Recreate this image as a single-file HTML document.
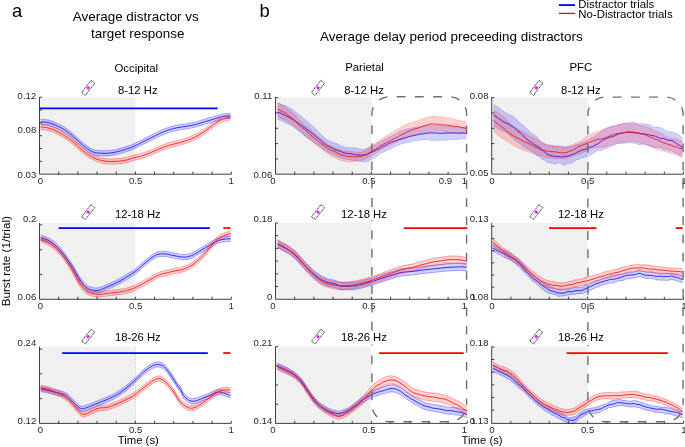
<!DOCTYPE html>
<html><head><meta charset="utf-8"><style>
html,body{margin:0;padding:0;background:#fff;width:685px;height:447px;overflow:hidden}
svg{display:block;will-change:transform}
text{font-family:"Liberation Sans", sans-serif}
</style></head><body>
<svg width="685" height="447" viewBox="0 0 685 447" font-family='"Liberation Sans", sans-serif'>
<rect x="39.5" y="97.2" width="95.9" height="77" fill="#f0f0f0"/>
<rect x="39.5" y="222.9" width="95.9" height="76.4" fill="#f0f0f0"/>
<rect x="39.5" y="346.6" width="95.9" height="76.8" fill="#f0f0f0"/>
<rect x="275.5" y="97.2" width="95.9" height="77" fill="#f0f0f0"/>
<rect x="275.5" y="222.9" width="95.9" height="76.4" fill="#f0f0f0"/>
<rect x="275.5" y="346.6" width="95.9" height="76.8" fill="#f0f0f0"/>
<rect x="491.7" y="97.2" width="95.9" height="77" fill="#f0f0f0"/>
<rect x="491.7" y="222.9" width="95.9" height="76.4" fill="#f0f0f0"/>
<rect x="491.7" y="346.6" width="95.9" height="76.8" fill="#f0f0f0"/>
<path d="M135.5 346.6 V423.4" stroke="#999" stroke-width="0.5" stroke-dasharray="1 1.5"/>
<path d="M40.7 119.2 C42.03 119.35 46.17 119.5 48.7 120.1 C51.23 120.7 53.22 121.6 55.9 122.8 C58.58 124 61.82 125.37 64.8 127.3 C67.78 129.23 70.82 131.87 73.8 134.4 C76.78 136.93 79.72 140.1 82.7 142.5 C85.68 144.9 89.02 147.47 91.7 148.8 C94.38 150.13 95.82 150.22 98.8 150.5 C101.78 150.78 106.32 150.78 109.6 150.5 C112.88 150.22 115.53 149.53 118.5 148.8 C121.47 148.07 124.98 146.87 127.4 146.1 C129.82 145.33 130.58 145.25 133 144.2 C135.42 143.15 138.92 141.28 141.9 139.8 C144.88 138.32 147.92 136.78 150.9 135.3 C153.88 133.82 156.82 132.23 159.8 130.9 C162.78 129.57 165.82 128.28 168.8 127.3 C171.78 126.32 174.72 125.6 177.7 125 C180.68 124.4 183.72 124.22 186.7 123.7 C189.68 123.18 192.62 122.65 195.6 121.9 C198.58 121.15 201.62 120.08 204.6 119.2 C207.58 118.32 210.53 117.48 213.5 116.6 C216.47 115.72 219.57 114.42 222.4 113.9 C225.23 113.38 229.15 113.57 230.5 113.5 L230.5 118.7 C229.15 118.77 225.23 118.58 222.4 119.1 C219.57 119.62 216.47 120.92 213.5 121.8 C210.53 122.68 207.58 123.52 204.6 124.4 C201.62 125.28 198.58 126.35 195.6 127.1 C192.62 127.85 189.68 128.38 186.7 128.9 C183.72 129.42 180.68 129.6 177.7 130.2 C174.72 130.8 171.78 131.52 168.8 132.5 C165.82 133.48 162.78 134.77 159.8 136.1 C156.82 137.43 153.88 139.02 150.9 140.5 C147.92 141.98 144.88 143.52 141.9 145 C138.92 146.48 135.42 148.35 133 149.4 C130.58 150.45 129.82 150.53 127.4 151.3 C124.98 152.07 121.47 153.27 118.5 154 C115.53 154.73 112.88 155.42 109.6 155.7 C106.32 155.98 101.78 155.98 98.8 155.7 C95.82 155.42 94.38 155.33 91.7 154 C89.02 152.67 85.68 150.1 82.7 147.7 C79.72 145.3 76.78 142.13 73.8 139.6 C70.82 137.07 67.78 134.43 64.8 132.5 C61.82 130.57 58.58 129.2 55.9 128 C53.22 126.8 51.23 125.9 48.7 125.3 C46.17 124.7 42.03 124.55 40.7 124.4 Z" fill="#0000ff" fill-opacity="0.18" stroke="none"/>
<path d="M40.7 119.2 C42.03 119.35 46.17 119.5 48.7 120.1 C51.23 120.7 53.22 121.6 55.9 122.8 C58.58 124 61.82 125.37 64.8 127.3 C67.78 129.23 70.82 131.87 73.8 134.4 C76.78 136.93 79.72 140.1 82.7 142.5 C85.68 144.9 89.02 147.47 91.7 148.8 C94.38 150.13 95.82 150.22 98.8 150.5 C101.78 150.78 106.32 150.78 109.6 150.5 C112.88 150.22 115.53 149.53 118.5 148.8 C121.47 148.07 124.98 146.87 127.4 146.1 C129.82 145.33 130.58 145.25 133 144.2 C135.42 143.15 138.92 141.28 141.9 139.8 C144.88 138.32 147.92 136.78 150.9 135.3 C153.88 133.82 156.82 132.23 159.8 130.9 C162.78 129.57 165.82 128.28 168.8 127.3 C171.78 126.32 174.72 125.6 177.7 125 C180.68 124.4 183.72 124.22 186.7 123.7 C189.68 123.18 192.62 122.65 195.6 121.9 C198.58 121.15 201.62 120.08 204.6 119.2 C207.58 118.32 210.53 117.48 213.5 116.6 C216.47 115.72 219.57 114.42 222.4 113.9 C225.23 113.38 229.15 113.57 230.5 113.5" fill="none" stroke="#0000ff" stroke-opacity="0.45" stroke-width="0.7"/>
<path d="M40.7 124.4 C42.03 124.55 46.17 124.7 48.7 125.3 C51.23 125.9 53.22 126.8 55.9 128 C58.58 129.2 61.82 130.57 64.8 132.5 C67.78 134.43 70.82 137.07 73.8 139.6 C76.78 142.13 79.72 145.3 82.7 147.7 C85.68 150.1 89.02 152.67 91.7 154 C94.38 155.33 95.82 155.42 98.8 155.7 C101.78 155.98 106.32 155.98 109.6 155.7 C112.88 155.42 115.53 154.73 118.5 154 C121.47 153.27 124.98 152.07 127.4 151.3 C129.82 150.53 130.58 150.45 133 149.4 C135.42 148.35 138.92 146.48 141.9 145 C144.88 143.52 147.92 141.98 150.9 140.5 C153.88 139.02 156.82 137.43 159.8 136.1 C162.78 134.77 165.82 133.48 168.8 132.5 C171.78 131.52 174.72 130.8 177.7 130.2 C180.68 129.6 183.72 129.42 186.7 128.9 C189.68 128.38 192.62 127.85 195.6 127.1 C198.58 126.35 201.62 125.28 204.6 124.4 C207.58 123.52 210.53 122.68 213.5 121.8 C216.47 120.92 219.57 119.62 222.4 119.1 C225.23 118.58 229.15 118.77 230.5 118.7" fill="none" stroke="#0000ff" stroke-opacity="0.45" stroke-width="0.7"/>
<path d="M40.7 121.8 C42.03 121.95 46.17 122.1 48.7 122.7 C51.23 123.3 53.22 124.2 55.9 125.4 C58.58 126.6 61.82 127.97 64.8 129.9 C67.78 131.83 70.82 134.47 73.8 137 C76.78 139.53 79.72 142.7 82.7 145.1 C85.68 147.5 89.02 150.07 91.7 151.4 C94.38 152.73 95.82 152.82 98.8 153.1 C101.78 153.38 106.32 153.38 109.6 153.1 C112.88 152.82 115.53 152.13 118.5 151.4 C121.47 150.67 124.98 149.47 127.4 148.7 C129.82 147.93 130.58 147.85 133 146.8 C135.42 145.75 138.92 143.88 141.9 142.4 C144.88 140.92 147.92 139.38 150.9 137.9 C153.88 136.42 156.82 134.83 159.8 133.5 C162.78 132.17 165.82 130.88 168.8 129.9 C171.78 128.92 174.72 128.2 177.7 127.6 C180.68 127 183.72 126.82 186.7 126.3 C189.68 125.78 192.62 125.25 195.6 124.5 C198.58 123.75 201.62 122.68 204.6 121.8 C207.58 120.92 210.53 120.08 213.5 119.2 C216.47 118.32 219.57 117.02 222.4 116.5 C225.23 115.98 229.15 116.17 230.5 116.1" fill="none" stroke="#0000ff" stroke-width="0.8" stroke-linejoin="round"/>
<path d="M40.7 124.2 C42.03 124.42 46.17 124.83 48.7 125.5 C51.23 126.17 53.22 126.92 55.9 128.2 C58.58 129.48 61.82 131.27 64.8 133.2 C67.78 135.13 70.82 137.35 73.8 139.8 C76.78 142.25 79.72 145.52 82.7 147.9 C85.68 150.28 88.72 152.47 91.7 154.1 C94.68 155.73 97.62 156.9 100.6 157.7 C103.58 158.5 106.62 158.75 109.6 158.9 C112.58 159.05 115.53 158.88 118.5 158.6 C121.47 158.32 124.98 157.73 127.4 157.2 C129.82 156.67 130.58 156.07 133 155.4 C135.42 154.73 138.92 154.1 141.9 153.2 C144.88 152.3 147.92 151.18 150.9 150 C153.88 148.82 156.82 147.3 159.8 146.1 C162.78 144.9 165.82 143.73 168.8 142.8 C171.78 141.87 174.72 141.32 177.7 140.5 C180.68 139.68 183.72 138.95 186.7 137.9 C189.68 136.85 192.62 135.73 195.6 134.2 C198.58 132.67 201.62 130.75 204.6 128.7 C207.58 126.65 210.53 123.92 213.5 121.9 C216.47 119.88 219.57 117.78 222.4 116.6 C225.23 115.42 229.15 115.1 230.5 114.8 L230.5 120 C229.15 120.3 225.23 120.62 222.4 121.8 C219.57 122.98 216.47 125.08 213.5 127.1 C210.53 129.12 207.58 131.85 204.6 133.9 C201.62 135.95 198.58 137.87 195.6 139.4 C192.62 140.93 189.68 142.05 186.7 143.1 C183.72 144.15 180.68 144.88 177.7 145.7 C174.72 146.52 171.78 147.07 168.8 148 C165.82 148.93 162.78 150.1 159.8 151.3 C156.82 152.5 153.88 154.02 150.9 155.2 C147.92 156.38 144.88 157.5 141.9 158.4 C138.92 159.3 135.42 159.93 133 160.6 C130.58 161.27 129.82 161.87 127.4 162.4 C124.98 162.93 121.47 163.52 118.5 163.8 C115.53 164.08 112.58 164.25 109.6 164.1 C106.62 163.95 103.58 163.7 100.6 162.9 C97.62 162.1 94.68 160.93 91.7 159.3 C88.72 157.67 85.68 155.48 82.7 153.1 C79.72 150.72 76.78 147.45 73.8 145 C70.82 142.55 67.78 140.33 64.8 138.4 C61.82 136.47 58.58 134.68 55.9 133.4 C53.22 132.12 51.23 131.37 48.7 130.7 C46.17 130.03 42.03 129.62 40.7 129.4 Z" fill="#ff0000" fill-opacity="0.18" stroke="none"/>
<path d="M40.7 124.2 C42.03 124.42 46.17 124.83 48.7 125.5 C51.23 126.17 53.22 126.92 55.9 128.2 C58.58 129.48 61.82 131.27 64.8 133.2 C67.78 135.13 70.82 137.35 73.8 139.8 C76.78 142.25 79.72 145.52 82.7 147.9 C85.68 150.28 88.72 152.47 91.7 154.1 C94.68 155.73 97.62 156.9 100.6 157.7 C103.58 158.5 106.62 158.75 109.6 158.9 C112.58 159.05 115.53 158.88 118.5 158.6 C121.47 158.32 124.98 157.73 127.4 157.2 C129.82 156.67 130.58 156.07 133 155.4 C135.42 154.73 138.92 154.1 141.9 153.2 C144.88 152.3 147.92 151.18 150.9 150 C153.88 148.82 156.82 147.3 159.8 146.1 C162.78 144.9 165.82 143.73 168.8 142.8 C171.78 141.87 174.72 141.32 177.7 140.5 C180.68 139.68 183.72 138.95 186.7 137.9 C189.68 136.85 192.62 135.73 195.6 134.2 C198.58 132.67 201.62 130.75 204.6 128.7 C207.58 126.65 210.53 123.92 213.5 121.9 C216.47 119.88 219.57 117.78 222.4 116.6 C225.23 115.42 229.15 115.1 230.5 114.8" fill="none" stroke="#ff0000" stroke-opacity="0.45" stroke-width="0.7"/>
<path d="M40.7 129.4 C42.03 129.62 46.17 130.03 48.7 130.7 C51.23 131.37 53.22 132.12 55.9 133.4 C58.58 134.68 61.82 136.47 64.8 138.4 C67.78 140.33 70.82 142.55 73.8 145 C76.78 147.45 79.72 150.72 82.7 153.1 C85.68 155.48 88.72 157.67 91.7 159.3 C94.68 160.93 97.62 162.1 100.6 162.9 C103.58 163.7 106.62 163.95 109.6 164.1 C112.58 164.25 115.53 164.08 118.5 163.8 C121.47 163.52 124.98 162.93 127.4 162.4 C129.82 161.87 130.58 161.27 133 160.6 C135.42 159.93 138.92 159.3 141.9 158.4 C144.88 157.5 147.92 156.38 150.9 155.2 C153.88 154.02 156.82 152.5 159.8 151.3 C162.78 150.1 165.82 148.93 168.8 148 C171.78 147.07 174.72 146.52 177.7 145.7 C180.68 144.88 183.72 144.15 186.7 143.1 C189.68 142.05 192.62 140.93 195.6 139.4 C198.58 137.87 201.62 135.95 204.6 133.9 C207.58 131.85 210.53 129.12 213.5 127.1 C216.47 125.08 219.57 122.98 222.4 121.8 C225.23 120.62 229.15 120.3 230.5 120" fill="none" stroke="#ff0000" stroke-opacity="0.45" stroke-width="0.7"/>
<path d="M40.7 126.8 C42.03 127.02 46.17 127.43 48.7 128.1 C51.23 128.77 53.22 129.52 55.9 130.8 C58.58 132.08 61.82 133.87 64.8 135.8 C67.78 137.73 70.82 139.95 73.8 142.4 C76.78 144.85 79.72 148.12 82.7 150.5 C85.68 152.88 88.72 155.07 91.7 156.7 C94.68 158.33 97.62 159.5 100.6 160.3 C103.58 161.1 106.62 161.35 109.6 161.5 C112.58 161.65 115.53 161.48 118.5 161.2 C121.47 160.92 124.98 160.33 127.4 159.8 C129.82 159.27 130.58 158.67 133 158 C135.42 157.33 138.92 156.7 141.9 155.8 C144.88 154.9 147.92 153.78 150.9 152.6 C153.88 151.42 156.82 149.9 159.8 148.7 C162.78 147.5 165.82 146.33 168.8 145.4 C171.78 144.47 174.72 143.92 177.7 143.1 C180.68 142.28 183.72 141.55 186.7 140.5 C189.68 139.45 192.62 138.33 195.6 136.8 C198.58 135.27 201.62 133.35 204.6 131.3 C207.58 129.25 210.53 126.52 213.5 124.5 C216.47 122.48 219.57 120.38 222.4 119.2 C225.23 118.02 229.15 117.7 230.5 117.4" fill="none" stroke="#ff0000" stroke-width="0.8" stroke-linejoin="round"/>
<path d="M40.7 235.3 C41.88 235.68 45.3 236.3 47.8 237.6 C50.3 238.9 53.08 240.75 55.7 243.1 C58.32 245.45 60.9 248.45 63.5 251.7 C66.1 254.95 69.22 259.47 71.3 262.6 C73.38 265.73 74.43 267.88 76 270.5 C77.57 273.12 78.87 275.83 80.7 278.3 C82.53 280.77 84.92 283.73 87 285.3 C89.08 286.87 91.12 287.33 93.2 287.7 C95.28 288.07 97.07 288.1 99.5 287.5 C101.93 286.9 105.1 285.25 107.8 284.1 C110.5 282.95 113.08 281.9 115.7 280.6 C118.32 279.3 120.9 277.8 123.5 276.3 C126.1 274.8 129.22 272.92 131.3 271.6 C133.38 270.28 134.43 269.63 136 268.4 C137.57 267.17 138.87 265.82 140.7 264.2 C142.53 262.58 144.92 260.4 147 258.7 C149.08 257 151.38 255.17 153.2 254 C155.02 252.83 155.93 252.17 157.9 251.7 C159.87 251.23 162.7 251.05 165 251.2 C167.3 251.35 169.47 252.15 171.7 252.6 C173.93 253.05 176.17 253.57 178.4 253.9 C180.63 254.23 182.87 254.75 185.1 254.6 C187.33 254.45 189.57 253.9 191.8 253 C194.03 252.1 196.27 250.5 198.5 249.2 C200.73 247.9 202.97 246.53 205.2 245.2 C207.43 243.87 209.67 242.43 211.9 241.2 C214.13 239.97 216.37 238.58 218.6 237.8 C220.83 237.02 223.28 236.77 225.3 236.5 C227.32 236.23 229.8 236.25 230.7 236.2 L230.7 241.4 C229.8 241.45 227.32 241.43 225.3 241.7 C223.28 241.97 220.83 242.22 218.6 243 C216.37 243.78 214.13 245.17 211.9 246.4 C209.67 247.63 207.43 249.07 205.2 250.4 C202.97 251.73 200.73 253.1 198.5 254.4 C196.27 255.7 194.03 257.3 191.8 258.2 C189.57 259.1 187.33 259.65 185.1 259.8 C182.87 259.95 180.63 259.43 178.4 259.1 C176.17 258.77 173.93 258.25 171.7 257.8 C169.47 257.35 167.3 256.55 165 256.4 C162.7 256.25 159.87 256.43 157.9 256.9 C155.93 257.37 155.02 258.03 153.2 259.2 C151.38 260.37 149.08 262.2 147 263.9 C144.92 265.6 142.53 267.78 140.7 269.4 C138.87 271.02 137.57 272.37 136 273.6 C134.43 274.83 133.38 275.48 131.3 276.8 C129.22 278.12 126.1 280 123.5 281.5 C120.9 283 118.32 284.5 115.7 285.8 C113.08 287.1 110.5 288.15 107.8 289.3 C105.1 290.45 101.93 292.1 99.5 292.7 C97.07 293.3 95.28 293.27 93.2 292.9 C91.12 292.53 89.08 292.07 87 290.5 C84.92 288.93 82.53 285.97 80.7 283.5 C78.87 281.03 77.57 278.32 76 275.7 C74.43 273.08 73.38 270.93 71.3 267.8 C69.22 264.67 66.1 260.15 63.5 256.9 C60.9 253.65 58.32 250.65 55.7 248.3 C53.08 245.95 50.3 244.1 47.8 242.8 C45.3 241.5 41.88 240.88 40.7 240.5 Z" fill="#0000ff" fill-opacity="0.18" stroke="none"/>
<path d="M40.7 235.3 C41.88 235.68 45.3 236.3 47.8 237.6 C50.3 238.9 53.08 240.75 55.7 243.1 C58.32 245.45 60.9 248.45 63.5 251.7 C66.1 254.95 69.22 259.47 71.3 262.6 C73.38 265.73 74.43 267.88 76 270.5 C77.57 273.12 78.87 275.83 80.7 278.3 C82.53 280.77 84.92 283.73 87 285.3 C89.08 286.87 91.12 287.33 93.2 287.7 C95.28 288.07 97.07 288.1 99.5 287.5 C101.93 286.9 105.1 285.25 107.8 284.1 C110.5 282.95 113.08 281.9 115.7 280.6 C118.32 279.3 120.9 277.8 123.5 276.3 C126.1 274.8 129.22 272.92 131.3 271.6 C133.38 270.28 134.43 269.63 136 268.4 C137.57 267.17 138.87 265.82 140.7 264.2 C142.53 262.58 144.92 260.4 147 258.7 C149.08 257 151.38 255.17 153.2 254 C155.02 252.83 155.93 252.17 157.9 251.7 C159.87 251.23 162.7 251.05 165 251.2 C167.3 251.35 169.47 252.15 171.7 252.6 C173.93 253.05 176.17 253.57 178.4 253.9 C180.63 254.23 182.87 254.75 185.1 254.6 C187.33 254.45 189.57 253.9 191.8 253 C194.03 252.1 196.27 250.5 198.5 249.2 C200.73 247.9 202.97 246.53 205.2 245.2 C207.43 243.87 209.67 242.43 211.9 241.2 C214.13 239.97 216.37 238.58 218.6 237.8 C220.83 237.02 223.28 236.77 225.3 236.5 C227.32 236.23 229.8 236.25 230.7 236.2" fill="none" stroke="#0000ff" stroke-opacity="0.45" stroke-width="0.7"/>
<path d="M40.7 240.5 C41.88 240.88 45.3 241.5 47.8 242.8 C50.3 244.1 53.08 245.95 55.7 248.3 C58.32 250.65 60.9 253.65 63.5 256.9 C66.1 260.15 69.22 264.67 71.3 267.8 C73.38 270.93 74.43 273.08 76 275.7 C77.57 278.32 78.87 281.03 80.7 283.5 C82.53 285.97 84.92 288.93 87 290.5 C89.08 292.07 91.12 292.53 93.2 292.9 C95.28 293.27 97.07 293.3 99.5 292.7 C101.93 292.1 105.1 290.45 107.8 289.3 C110.5 288.15 113.08 287.1 115.7 285.8 C118.32 284.5 120.9 283 123.5 281.5 C126.1 280 129.22 278.12 131.3 276.8 C133.38 275.48 134.43 274.83 136 273.6 C137.57 272.37 138.87 271.02 140.7 269.4 C142.53 267.78 144.92 265.6 147 263.9 C149.08 262.2 151.38 260.37 153.2 259.2 C155.02 258.03 155.93 257.37 157.9 256.9 C159.87 256.43 162.7 256.25 165 256.4 C167.3 256.55 169.47 257.35 171.7 257.8 C173.93 258.25 176.17 258.77 178.4 259.1 C180.63 259.43 182.87 259.95 185.1 259.8 C187.33 259.65 189.57 259.1 191.8 258.2 C194.03 257.3 196.27 255.7 198.5 254.4 C200.73 253.1 202.97 251.73 205.2 250.4 C207.43 249.07 209.67 247.63 211.9 246.4 C214.13 245.17 216.37 243.78 218.6 243 C220.83 242.22 223.28 241.97 225.3 241.7 C227.32 241.43 229.8 241.45 230.7 241.4" fill="none" stroke="#0000ff" stroke-opacity="0.45" stroke-width="0.7"/>
<path d="M40.7 237.9 C41.88 238.28 45.3 238.9 47.8 240.2 C50.3 241.5 53.08 243.35 55.7 245.7 C58.32 248.05 60.9 251.05 63.5 254.3 C66.1 257.55 69.22 262.07 71.3 265.2 C73.38 268.33 74.43 270.48 76 273.1 C77.57 275.72 78.87 278.43 80.7 280.9 C82.53 283.37 84.92 286.33 87 287.9 C89.08 289.47 91.12 289.93 93.2 290.3 C95.28 290.67 97.07 290.7 99.5 290.1 C101.93 289.5 105.1 287.85 107.8 286.7 C110.5 285.55 113.08 284.5 115.7 283.2 C118.32 281.9 120.9 280.4 123.5 278.9 C126.1 277.4 129.22 275.52 131.3 274.2 C133.38 272.88 134.43 272.23 136 271 C137.57 269.77 138.87 268.42 140.7 266.8 C142.53 265.18 144.92 263 147 261.3 C149.08 259.6 151.38 257.77 153.2 256.6 C155.02 255.43 155.93 254.77 157.9 254.3 C159.87 253.83 162.7 253.65 165 253.8 C167.3 253.95 169.47 254.75 171.7 255.2 C173.93 255.65 176.17 256.17 178.4 256.5 C180.63 256.83 182.87 257.35 185.1 257.2 C187.33 257.05 189.57 256.5 191.8 255.6 C194.03 254.7 196.27 253.1 198.5 251.8 C200.73 250.5 202.97 249.13 205.2 247.8 C207.43 246.47 209.67 245.03 211.9 243.8 C214.13 242.57 216.37 241.18 218.6 240.4 C220.83 239.62 223.28 239.37 225.3 239.1 C227.32 238.83 229.8 238.85 230.7 238.8" fill="none" stroke="#0000ff" stroke-width="0.8" stroke-linejoin="round"/>
<path d="M40.7 236.9 C41.88 237.35 45.3 238.18 47.8 239.6 C50.3 241.02 53.08 243 55.7 245.4 C58.32 247.8 60.9 250.6 63.5 254 C66.1 257.4 69.22 262.4 71.3 265.8 C73.38 269.2 74.43 271.67 76 274.4 C77.57 277.13 78.87 279.8 80.7 282.2 C82.53 284.6 84.92 287.28 87 288.8 C89.08 290.32 91.12 290.82 93.2 291.3 C95.28 291.78 97.07 291.78 99.5 291.7 C101.93 291.62 105.1 291.13 107.8 290.8 C110.5 290.47 113.08 290.03 115.7 289.7 C118.32 289.37 120.9 289.32 123.5 288.8 C126.1 288.28 129.22 287.3 131.3 286.6 C133.38 285.9 134.43 285.33 136 284.6 C137.57 283.87 138.87 283.17 140.7 282.2 C142.53 281.23 144.92 279.97 147 278.8 C149.08 277.63 151.12 276.33 153.2 275.2 C155.28 274.07 157.53 272.75 159.5 272 C161.47 271.25 162.97 271.18 165 270.7 C167.03 270.22 169.47 269.6 171.7 269.1 C173.93 268.6 176.17 268.22 178.4 267.7 C180.63 267.18 182.87 266.85 185.1 266 C187.33 265.15 189.57 264.05 191.8 262.6 C194.03 261.15 196.27 259.3 198.5 257.3 C200.73 255.3 202.97 253.07 205.2 250.6 C207.43 248.13 209.67 244.97 211.9 242.5 C214.13 240.03 216.37 237.47 218.6 235.8 C220.83 234.13 223.28 233.35 225.3 232.5 C227.32 231.65 229.8 231 230.7 230.7 L230.7 235.9 C229.8 236.2 227.32 236.85 225.3 237.7 C223.28 238.55 220.83 239.33 218.6 241 C216.37 242.67 214.13 245.23 211.9 247.7 C209.67 250.17 207.43 253.33 205.2 255.8 C202.97 258.27 200.73 260.5 198.5 262.5 C196.27 264.5 194.03 266.35 191.8 267.8 C189.57 269.25 187.33 270.35 185.1 271.2 C182.87 272.05 180.63 272.38 178.4 272.9 C176.17 273.42 173.93 273.8 171.7 274.3 C169.47 274.8 167.03 275.42 165 275.9 C162.97 276.38 161.47 276.45 159.5 277.2 C157.53 277.95 155.28 279.27 153.2 280.4 C151.12 281.53 149.08 282.83 147 284 C144.92 285.17 142.53 286.43 140.7 287.4 C138.87 288.37 137.57 289.07 136 289.8 C134.43 290.53 133.38 291.1 131.3 291.8 C129.22 292.5 126.1 293.48 123.5 294 C120.9 294.52 118.32 294.57 115.7 294.9 C113.08 295.23 110.5 295.67 107.8 296 C105.1 296.33 101.93 296.82 99.5 296.9 C97.07 296.98 95.28 296.98 93.2 296.5 C91.12 296.02 89.08 295.52 87 294 C84.92 292.48 82.53 289.8 80.7 287.4 C78.87 285 77.57 282.33 76 279.6 C74.43 276.87 73.38 274.4 71.3 271 C69.22 267.6 66.1 262.6 63.5 259.2 C60.9 255.8 58.32 253 55.7 250.6 C53.08 248.2 50.3 246.22 47.8 244.8 C45.3 243.38 41.88 242.55 40.7 242.1 Z" fill="#ff0000" fill-opacity="0.18" stroke="none"/>
<path d="M40.7 236.9 C41.88 237.35 45.3 238.18 47.8 239.6 C50.3 241.02 53.08 243 55.7 245.4 C58.32 247.8 60.9 250.6 63.5 254 C66.1 257.4 69.22 262.4 71.3 265.8 C73.38 269.2 74.43 271.67 76 274.4 C77.57 277.13 78.87 279.8 80.7 282.2 C82.53 284.6 84.92 287.28 87 288.8 C89.08 290.32 91.12 290.82 93.2 291.3 C95.28 291.78 97.07 291.78 99.5 291.7 C101.93 291.62 105.1 291.13 107.8 290.8 C110.5 290.47 113.08 290.03 115.7 289.7 C118.32 289.37 120.9 289.32 123.5 288.8 C126.1 288.28 129.22 287.3 131.3 286.6 C133.38 285.9 134.43 285.33 136 284.6 C137.57 283.87 138.87 283.17 140.7 282.2 C142.53 281.23 144.92 279.97 147 278.8 C149.08 277.63 151.12 276.33 153.2 275.2 C155.28 274.07 157.53 272.75 159.5 272 C161.47 271.25 162.97 271.18 165 270.7 C167.03 270.22 169.47 269.6 171.7 269.1 C173.93 268.6 176.17 268.22 178.4 267.7 C180.63 267.18 182.87 266.85 185.1 266 C187.33 265.15 189.57 264.05 191.8 262.6 C194.03 261.15 196.27 259.3 198.5 257.3 C200.73 255.3 202.97 253.07 205.2 250.6 C207.43 248.13 209.67 244.97 211.9 242.5 C214.13 240.03 216.37 237.47 218.6 235.8 C220.83 234.13 223.28 233.35 225.3 232.5 C227.32 231.65 229.8 231 230.7 230.7" fill="none" stroke="#ff0000" stroke-opacity="0.45" stroke-width="0.7"/>
<path d="M40.7 242.1 C41.88 242.55 45.3 243.38 47.8 244.8 C50.3 246.22 53.08 248.2 55.7 250.6 C58.32 253 60.9 255.8 63.5 259.2 C66.1 262.6 69.22 267.6 71.3 271 C73.38 274.4 74.43 276.87 76 279.6 C77.57 282.33 78.87 285 80.7 287.4 C82.53 289.8 84.92 292.48 87 294 C89.08 295.52 91.12 296.02 93.2 296.5 C95.28 296.98 97.07 296.98 99.5 296.9 C101.93 296.82 105.1 296.33 107.8 296 C110.5 295.67 113.08 295.23 115.7 294.9 C118.32 294.57 120.9 294.52 123.5 294 C126.1 293.48 129.22 292.5 131.3 291.8 C133.38 291.1 134.43 290.53 136 289.8 C137.57 289.07 138.87 288.37 140.7 287.4 C142.53 286.43 144.92 285.17 147 284 C149.08 282.83 151.12 281.53 153.2 280.4 C155.28 279.27 157.53 277.95 159.5 277.2 C161.47 276.45 162.97 276.38 165 275.9 C167.03 275.42 169.47 274.8 171.7 274.3 C173.93 273.8 176.17 273.42 178.4 272.9 C180.63 272.38 182.87 272.05 185.1 271.2 C187.33 270.35 189.57 269.25 191.8 267.8 C194.03 266.35 196.27 264.5 198.5 262.5 C200.73 260.5 202.97 258.27 205.2 255.8 C207.43 253.33 209.67 250.17 211.9 247.7 C214.13 245.23 216.37 242.67 218.6 241 C220.83 239.33 223.28 238.55 225.3 237.7 C227.32 236.85 229.8 236.2 230.7 235.9" fill="none" stroke="#ff0000" stroke-opacity="0.45" stroke-width="0.7"/>
<path d="M40.7 239.5 C41.88 239.95 45.3 240.78 47.8 242.2 C50.3 243.62 53.08 245.6 55.7 248 C58.32 250.4 60.9 253.2 63.5 256.6 C66.1 260 69.22 265 71.3 268.4 C73.38 271.8 74.43 274.27 76 277 C77.57 279.73 78.87 282.4 80.7 284.8 C82.53 287.2 84.92 289.88 87 291.4 C89.08 292.92 91.12 293.42 93.2 293.9 C95.28 294.38 97.07 294.38 99.5 294.3 C101.93 294.22 105.1 293.73 107.8 293.4 C110.5 293.07 113.08 292.63 115.7 292.3 C118.32 291.97 120.9 291.92 123.5 291.4 C126.1 290.88 129.22 289.9 131.3 289.2 C133.38 288.5 134.43 287.93 136 287.2 C137.57 286.47 138.87 285.77 140.7 284.8 C142.53 283.83 144.92 282.57 147 281.4 C149.08 280.23 151.12 278.93 153.2 277.8 C155.28 276.67 157.53 275.35 159.5 274.6 C161.47 273.85 162.97 273.78 165 273.3 C167.03 272.82 169.47 272.2 171.7 271.7 C173.93 271.2 176.17 270.82 178.4 270.3 C180.63 269.78 182.87 269.45 185.1 268.6 C187.33 267.75 189.57 266.65 191.8 265.2 C194.03 263.75 196.27 261.9 198.5 259.9 C200.73 257.9 202.97 255.67 205.2 253.2 C207.43 250.73 209.67 247.57 211.9 245.1 C214.13 242.63 216.37 240.07 218.6 238.4 C220.83 236.73 223.28 235.95 225.3 235.1 C227.32 234.25 229.8 233.6 230.7 233.3" fill="none" stroke="#ff0000" stroke-width="0.8" stroke-linejoin="round"/>
<path d="M40.7 386.4 C41.7 386.58 44.58 387.03 46.7 387.5 C48.82 387.97 51.17 388.63 53.4 389.2 C55.63 389.77 58.05 390.33 60.1 390.9 C62.15 391.47 63.83 391.48 65.7 392.6 C67.57 393.72 69.43 395.83 71.3 397.6 C73.17 399.37 75.22 401.8 76.9 403.2 C78.58 404.6 79.9 405.63 81.4 406 C82.9 406.37 84.22 405.87 85.9 405.4 C87.58 404.93 89.45 404.03 91.5 403.2 C93.55 402.37 95.73 401.4 98.2 400.4 C100.67 399.4 103.92 398.2 106.3 397.2 C108.68 396.2 110.42 395.45 112.5 394.4 C114.58 393.35 116.72 392.22 118.8 390.9 C120.88 389.58 122.92 388.13 125 386.5 C127.08 384.87 129.2 382.97 131.3 381.1 C133.4 379.23 135.52 377.27 137.6 375.3 C139.68 373.33 141.72 371.08 143.8 369.3 C145.88 367.52 148.27 365.77 150.1 364.6 C151.93 363.43 153.43 362.77 154.8 362.3 C156.17 361.83 156.87 361.58 158.3 361.8 C159.73 362.02 161.8 362.48 163.4 363.6 C165 364.72 166.4 366.63 167.9 368.5 C169.4 370.37 170.92 372.57 172.4 374.8 C173.88 377.03 175.32 379.67 176.8 381.9 C178.28 384.13 180.18 386.38 181.3 388.2 C182.42 390.02 182.35 391.3 183.5 392.8 C184.65 394.3 186.77 396.22 188.2 397.2 C189.63 398.18 190.53 398.6 192.1 398.7 C193.67 398.8 195.65 398.4 197.6 397.8 C199.55 397.2 201.72 395.93 203.8 395.1 C205.88 394.27 208.27 393.58 210.1 392.8 C211.93 392.02 213.23 390.98 214.8 390.4 C216.37 389.82 217.68 389.17 219.5 389.3 C221.32 389.43 223.88 390.62 225.7 391.2 C227.52 391.78 229.62 392.53 230.4 392.8 L230.4 398 C229.62 397.73 227.52 396.98 225.7 396.4 C223.88 395.82 221.32 394.63 219.5 394.5 C217.68 394.37 216.37 395.02 214.8 395.6 C213.23 396.18 211.93 397.22 210.1 398 C208.27 398.78 205.88 399.47 203.8 400.3 C201.72 401.13 199.55 402.4 197.6 403 C195.65 403.6 193.67 404 192.1 403.9 C190.53 403.8 189.63 403.38 188.2 402.4 C186.77 401.42 184.65 399.5 183.5 398 C182.35 396.5 182.42 395.22 181.3 393.4 C180.18 391.58 178.28 389.33 176.8 387.1 C175.32 384.87 173.88 382.23 172.4 380 C170.92 377.77 169.4 375.57 167.9 373.7 C166.4 371.83 165 369.92 163.4 368.8 C161.8 367.68 159.73 367.22 158.3 367 C156.87 366.78 156.17 367.03 154.8 367.5 C153.43 367.97 151.93 368.63 150.1 369.8 C148.27 370.97 145.88 372.72 143.8 374.5 C141.72 376.28 139.68 378.53 137.6 380.5 C135.52 382.47 133.4 384.43 131.3 386.3 C129.2 388.17 127.08 390.07 125 391.7 C122.92 393.33 120.88 394.78 118.8 396.1 C116.72 397.42 114.58 398.55 112.5 399.6 C110.42 400.65 108.68 401.4 106.3 402.4 C103.92 403.4 100.67 404.6 98.2 405.6 C95.73 406.6 93.55 407.57 91.5 408.4 C89.45 409.23 87.58 410.13 85.9 410.6 C84.22 411.07 82.9 411.57 81.4 411.2 C79.9 410.83 78.58 409.8 76.9 408.4 C75.22 407 73.17 404.57 71.3 402.8 C69.43 401.03 67.57 398.92 65.7 397.8 C63.83 396.68 62.15 396.67 60.1 396.1 C58.05 395.53 55.63 394.97 53.4 394.4 C51.17 393.83 48.82 393.17 46.7 392.7 C44.58 392.23 41.7 391.78 40.7 391.6 Z" fill="#0000ff" fill-opacity="0.18" stroke="none"/>
<path d="M40.7 386.4 C41.7 386.58 44.58 387.03 46.7 387.5 C48.82 387.97 51.17 388.63 53.4 389.2 C55.63 389.77 58.05 390.33 60.1 390.9 C62.15 391.47 63.83 391.48 65.7 392.6 C67.57 393.72 69.43 395.83 71.3 397.6 C73.17 399.37 75.22 401.8 76.9 403.2 C78.58 404.6 79.9 405.63 81.4 406 C82.9 406.37 84.22 405.87 85.9 405.4 C87.58 404.93 89.45 404.03 91.5 403.2 C93.55 402.37 95.73 401.4 98.2 400.4 C100.67 399.4 103.92 398.2 106.3 397.2 C108.68 396.2 110.42 395.45 112.5 394.4 C114.58 393.35 116.72 392.22 118.8 390.9 C120.88 389.58 122.92 388.13 125 386.5 C127.08 384.87 129.2 382.97 131.3 381.1 C133.4 379.23 135.52 377.27 137.6 375.3 C139.68 373.33 141.72 371.08 143.8 369.3 C145.88 367.52 148.27 365.77 150.1 364.6 C151.93 363.43 153.43 362.77 154.8 362.3 C156.17 361.83 156.87 361.58 158.3 361.8 C159.73 362.02 161.8 362.48 163.4 363.6 C165 364.72 166.4 366.63 167.9 368.5 C169.4 370.37 170.92 372.57 172.4 374.8 C173.88 377.03 175.32 379.67 176.8 381.9 C178.28 384.13 180.18 386.38 181.3 388.2 C182.42 390.02 182.35 391.3 183.5 392.8 C184.65 394.3 186.77 396.22 188.2 397.2 C189.63 398.18 190.53 398.6 192.1 398.7 C193.67 398.8 195.65 398.4 197.6 397.8 C199.55 397.2 201.72 395.93 203.8 395.1 C205.88 394.27 208.27 393.58 210.1 392.8 C211.93 392.02 213.23 390.98 214.8 390.4 C216.37 389.82 217.68 389.17 219.5 389.3 C221.32 389.43 223.88 390.62 225.7 391.2 C227.52 391.78 229.62 392.53 230.4 392.8" fill="none" stroke="#0000ff" stroke-opacity="0.45" stroke-width="0.7"/>
<path d="M40.7 391.6 C41.7 391.78 44.58 392.23 46.7 392.7 C48.82 393.17 51.17 393.83 53.4 394.4 C55.63 394.97 58.05 395.53 60.1 396.1 C62.15 396.67 63.83 396.68 65.7 397.8 C67.57 398.92 69.43 401.03 71.3 402.8 C73.17 404.57 75.22 407 76.9 408.4 C78.58 409.8 79.9 410.83 81.4 411.2 C82.9 411.57 84.22 411.07 85.9 410.6 C87.58 410.13 89.45 409.23 91.5 408.4 C93.55 407.57 95.73 406.6 98.2 405.6 C100.67 404.6 103.92 403.4 106.3 402.4 C108.68 401.4 110.42 400.65 112.5 399.6 C114.58 398.55 116.72 397.42 118.8 396.1 C120.88 394.78 122.92 393.33 125 391.7 C127.08 390.07 129.2 388.17 131.3 386.3 C133.4 384.43 135.52 382.47 137.6 380.5 C139.68 378.53 141.72 376.28 143.8 374.5 C145.88 372.72 148.27 370.97 150.1 369.8 C151.93 368.63 153.43 367.97 154.8 367.5 C156.17 367.03 156.87 366.78 158.3 367 C159.73 367.22 161.8 367.68 163.4 368.8 C165 369.92 166.4 371.83 167.9 373.7 C169.4 375.57 170.92 377.77 172.4 380 C173.88 382.23 175.32 384.87 176.8 387.1 C178.28 389.33 180.18 391.58 181.3 393.4 C182.42 395.22 182.35 396.5 183.5 398 C184.65 399.5 186.77 401.42 188.2 402.4 C189.63 403.38 190.53 403.8 192.1 403.9 C193.67 404 195.65 403.6 197.6 403 C199.55 402.4 201.72 401.13 203.8 400.3 C205.88 399.47 208.27 398.78 210.1 398 C211.93 397.22 213.23 396.18 214.8 395.6 C216.37 395.02 217.68 394.37 219.5 394.5 C221.32 394.63 223.88 395.82 225.7 396.4 C227.52 396.98 229.62 397.73 230.4 398" fill="none" stroke="#0000ff" stroke-opacity="0.45" stroke-width="0.7"/>
<path d="M40.7 389 C41.7 389.18 44.58 389.63 46.7 390.1 C48.82 390.57 51.17 391.23 53.4 391.8 C55.63 392.37 58.05 392.93 60.1 393.5 C62.15 394.07 63.83 394.08 65.7 395.2 C67.57 396.32 69.43 398.43 71.3 400.2 C73.17 401.97 75.22 404.4 76.9 405.8 C78.58 407.2 79.9 408.23 81.4 408.6 C82.9 408.97 84.22 408.47 85.9 408 C87.58 407.53 89.45 406.63 91.5 405.8 C93.55 404.97 95.73 404 98.2 403 C100.67 402 103.92 400.8 106.3 399.8 C108.68 398.8 110.42 398.05 112.5 397 C114.58 395.95 116.72 394.82 118.8 393.5 C120.88 392.18 122.92 390.73 125 389.1 C127.08 387.47 129.2 385.57 131.3 383.7 C133.4 381.83 135.52 379.87 137.6 377.9 C139.68 375.93 141.72 373.68 143.8 371.9 C145.88 370.12 148.27 368.37 150.1 367.2 C151.93 366.03 153.43 365.37 154.8 364.9 C156.17 364.43 156.87 364.18 158.3 364.4 C159.73 364.62 161.8 365.08 163.4 366.2 C165 367.32 166.4 369.23 167.9 371.1 C169.4 372.97 170.92 375.17 172.4 377.4 C173.88 379.63 175.32 382.27 176.8 384.5 C178.28 386.73 180.18 388.98 181.3 390.8 C182.42 392.62 182.35 393.9 183.5 395.4 C184.65 396.9 186.77 398.82 188.2 399.8 C189.63 400.78 190.53 401.2 192.1 401.3 C193.67 401.4 195.65 401 197.6 400.4 C199.55 399.8 201.72 398.53 203.8 397.7 C205.88 396.87 208.27 396.18 210.1 395.4 C211.93 394.62 213.23 393.58 214.8 393 C216.37 392.42 217.68 391.77 219.5 391.9 C221.32 392.03 223.88 393.22 225.7 393.8 C227.52 394.38 229.62 395.13 230.4 395.4" fill="none" stroke="#0000ff" stroke-width="0.8" stroke-linejoin="round"/>
<path d="M40.7 385.3 C41.7 385.48 44.58 385.83 46.7 386.4 C48.82 386.97 51.17 387.87 53.4 388.7 C55.63 389.53 58.05 390.38 60.1 391.4 C62.15 392.42 63.83 393.4 65.7 394.8 C67.57 396.2 69.43 397.85 71.3 399.8 C73.17 401.75 75.22 404.63 76.9 406.5 C78.58 408.37 80.1 410.15 81.4 411 C82.7 411.85 83.4 411.78 84.7 411.6 C86 411.42 87.33 410.75 89.2 409.9 C91.07 409.05 94.1 407.27 95.9 406.5 C97.7 405.73 98.27 405.55 100 405.3 C101.73 405.05 104.22 405.38 106.3 405 C108.38 404.62 110.42 403.73 112.5 403 C114.58 402.27 116.72 401.52 118.8 400.6 C120.88 399.68 122.92 398.53 125 397.5 C127.08 396.47 129.2 395.65 131.3 394.4 C133.4 393.15 135.52 391.57 137.6 390 C139.68 388.43 141.72 386.62 143.8 385 C145.88 383.38 148.27 381.62 150.1 380.3 C151.93 378.98 153.37 377.83 154.8 377.1 C156.23 376.37 157.27 375.82 158.7 375.9 C160.13 375.98 161.87 376.6 163.4 377.6 C164.93 378.6 166.4 380.28 167.9 381.9 C169.4 383.52 171.13 385.62 172.4 387.3 C173.67 388.98 174.43 390.3 175.5 392 C176.57 393.7 177.47 395.8 178.8 397.5 C180.13 399.2 181.93 400.95 183.5 402.2 C185.07 403.45 186.9 404.43 188.2 405 C189.5 405.57 190 405.68 191.3 405.6 C192.6 405.52 194.17 405.33 196 404.5 C197.83 403.67 200.22 402.03 202.3 400.6 C204.38 399.17 206.42 397.47 208.5 395.9 C210.58 394.33 212.72 392.5 214.8 391.2 C216.88 389.9 219.18 388.75 221 388.1 C222.82 387.45 224.13 387.43 225.7 387.3 C227.27 387.17 229.62 387.3 230.4 387.3 L230.4 392.5 C229.62 392.5 227.27 392.37 225.7 392.5 C224.13 392.63 222.82 392.65 221 393.3 C219.18 393.95 216.88 395.1 214.8 396.4 C212.72 397.7 210.58 399.53 208.5 401.1 C206.42 402.67 204.38 404.37 202.3 405.8 C200.22 407.23 197.83 408.87 196 409.7 C194.17 410.53 192.6 410.72 191.3 410.8 C190 410.88 189.5 410.77 188.2 410.2 C186.9 409.63 185.07 408.65 183.5 407.4 C181.93 406.15 180.13 404.4 178.8 402.7 C177.47 401 176.57 398.9 175.5 397.2 C174.43 395.5 173.67 394.18 172.4 392.5 C171.13 390.82 169.4 388.72 167.9 387.1 C166.4 385.48 164.93 383.8 163.4 382.8 C161.87 381.8 160.13 381.18 158.7 381.1 C157.27 381.02 156.23 381.57 154.8 382.3 C153.37 383.03 151.93 384.18 150.1 385.5 C148.27 386.82 145.88 388.58 143.8 390.2 C141.72 391.82 139.68 393.63 137.6 395.2 C135.52 396.77 133.4 398.35 131.3 399.6 C129.2 400.85 127.08 401.67 125 402.7 C122.92 403.73 120.88 404.88 118.8 405.8 C116.72 406.72 114.58 407.47 112.5 408.2 C110.42 408.93 108.38 409.82 106.3 410.2 C104.22 410.58 101.73 410.25 100 410.5 C98.27 410.75 97.7 410.93 95.9 411.7 C94.1 412.47 91.07 414.25 89.2 415.1 C87.33 415.95 86 416.62 84.7 416.8 C83.4 416.98 82.7 417.05 81.4 416.2 C80.1 415.35 78.58 413.57 76.9 411.7 C75.22 409.83 73.17 406.95 71.3 405 C69.43 403.05 67.57 401.4 65.7 400 C63.83 398.6 62.15 397.62 60.1 396.6 C58.05 395.58 55.63 394.73 53.4 393.9 C51.17 393.07 48.82 392.17 46.7 391.6 C44.58 391.03 41.7 390.68 40.7 390.5 Z" fill="#ff0000" fill-opacity="0.18" stroke="none"/>
<path d="M40.7 385.3 C41.7 385.48 44.58 385.83 46.7 386.4 C48.82 386.97 51.17 387.87 53.4 388.7 C55.63 389.53 58.05 390.38 60.1 391.4 C62.15 392.42 63.83 393.4 65.7 394.8 C67.57 396.2 69.43 397.85 71.3 399.8 C73.17 401.75 75.22 404.63 76.9 406.5 C78.58 408.37 80.1 410.15 81.4 411 C82.7 411.85 83.4 411.78 84.7 411.6 C86 411.42 87.33 410.75 89.2 409.9 C91.07 409.05 94.1 407.27 95.9 406.5 C97.7 405.73 98.27 405.55 100 405.3 C101.73 405.05 104.22 405.38 106.3 405 C108.38 404.62 110.42 403.73 112.5 403 C114.58 402.27 116.72 401.52 118.8 400.6 C120.88 399.68 122.92 398.53 125 397.5 C127.08 396.47 129.2 395.65 131.3 394.4 C133.4 393.15 135.52 391.57 137.6 390 C139.68 388.43 141.72 386.62 143.8 385 C145.88 383.38 148.27 381.62 150.1 380.3 C151.93 378.98 153.37 377.83 154.8 377.1 C156.23 376.37 157.27 375.82 158.7 375.9 C160.13 375.98 161.87 376.6 163.4 377.6 C164.93 378.6 166.4 380.28 167.9 381.9 C169.4 383.52 171.13 385.62 172.4 387.3 C173.67 388.98 174.43 390.3 175.5 392 C176.57 393.7 177.47 395.8 178.8 397.5 C180.13 399.2 181.93 400.95 183.5 402.2 C185.07 403.45 186.9 404.43 188.2 405 C189.5 405.57 190 405.68 191.3 405.6 C192.6 405.52 194.17 405.33 196 404.5 C197.83 403.67 200.22 402.03 202.3 400.6 C204.38 399.17 206.42 397.47 208.5 395.9 C210.58 394.33 212.72 392.5 214.8 391.2 C216.88 389.9 219.18 388.75 221 388.1 C222.82 387.45 224.13 387.43 225.7 387.3 C227.27 387.17 229.62 387.3 230.4 387.3" fill="none" stroke="#ff0000" stroke-opacity="0.45" stroke-width="0.7"/>
<path d="M40.7 390.5 C41.7 390.68 44.58 391.03 46.7 391.6 C48.82 392.17 51.17 393.07 53.4 393.9 C55.63 394.73 58.05 395.58 60.1 396.6 C62.15 397.62 63.83 398.6 65.7 400 C67.57 401.4 69.43 403.05 71.3 405 C73.17 406.95 75.22 409.83 76.9 411.7 C78.58 413.57 80.1 415.35 81.4 416.2 C82.7 417.05 83.4 416.98 84.7 416.8 C86 416.62 87.33 415.95 89.2 415.1 C91.07 414.25 94.1 412.47 95.9 411.7 C97.7 410.93 98.27 410.75 100 410.5 C101.73 410.25 104.22 410.58 106.3 410.2 C108.38 409.82 110.42 408.93 112.5 408.2 C114.58 407.47 116.72 406.72 118.8 405.8 C120.88 404.88 122.92 403.73 125 402.7 C127.08 401.67 129.2 400.85 131.3 399.6 C133.4 398.35 135.52 396.77 137.6 395.2 C139.68 393.63 141.72 391.82 143.8 390.2 C145.88 388.58 148.27 386.82 150.1 385.5 C151.93 384.18 153.37 383.03 154.8 382.3 C156.23 381.57 157.27 381.02 158.7 381.1 C160.13 381.18 161.87 381.8 163.4 382.8 C164.93 383.8 166.4 385.48 167.9 387.1 C169.4 388.72 171.13 390.82 172.4 392.5 C173.67 394.18 174.43 395.5 175.5 397.2 C176.57 398.9 177.47 401 178.8 402.7 C180.13 404.4 181.93 406.15 183.5 407.4 C185.07 408.65 186.9 409.63 188.2 410.2 C189.5 410.77 190 410.88 191.3 410.8 C192.6 410.72 194.17 410.53 196 409.7 C197.83 408.87 200.22 407.23 202.3 405.8 C204.38 404.37 206.42 402.67 208.5 401.1 C210.58 399.53 212.72 397.7 214.8 396.4 C216.88 395.1 219.18 393.95 221 393.3 C222.82 392.65 224.13 392.63 225.7 392.5 C227.27 392.37 229.62 392.5 230.4 392.5" fill="none" stroke="#ff0000" stroke-opacity="0.45" stroke-width="0.7"/>
<path d="M40.7 387.9 C41.7 388.08 44.58 388.43 46.7 389 C48.82 389.57 51.17 390.47 53.4 391.3 C55.63 392.13 58.05 392.98 60.1 394 C62.15 395.02 63.83 396 65.7 397.4 C67.57 398.8 69.43 400.45 71.3 402.4 C73.17 404.35 75.22 407.23 76.9 409.1 C78.58 410.97 80.1 412.75 81.4 413.6 C82.7 414.45 83.4 414.38 84.7 414.2 C86 414.02 87.33 413.35 89.2 412.5 C91.07 411.65 94.1 409.87 95.9 409.1 C97.7 408.33 98.27 408.15 100 407.9 C101.73 407.65 104.22 407.98 106.3 407.6 C108.38 407.22 110.42 406.33 112.5 405.6 C114.58 404.87 116.72 404.12 118.8 403.2 C120.88 402.28 122.92 401.13 125 400.1 C127.08 399.07 129.2 398.25 131.3 397 C133.4 395.75 135.52 394.17 137.6 392.6 C139.68 391.03 141.72 389.22 143.8 387.6 C145.88 385.98 148.27 384.22 150.1 382.9 C151.93 381.58 153.37 380.43 154.8 379.7 C156.23 378.97 157.27 378.42 158.7 378.5 C160.13 378.58 161.87 379.2 163.4 380.2 C164.93 381.2 166.4 382.88 167.9 384.5 C169.4 386.12 171.13 388.22 172.4 389.9 C173.67 391.58 174.43 392.9 175.5 394.6 C176.57 396.3 177.47 398.4 178.8 400.1 C180.13 401.8 181.93 403.55 183.5 404.8 C185.07 406.05 186.9 407.03 188.2 407.6 C189.5 408.17 190 408.28 191.3 408.2 C192.6 408.12 194.17 407.93 196 407.1 C197.83 406.27 200.22 404.63 202.3 403.2 C204.38 401.77 206.42 400.07 208.5 398.5 C210.58 396.93 212.72 395.1 214.8 393.8 C216.88 392.5 219.18 391.35 221 390.7 C222.82 390.05 224.13 390.03 225.7 389.9 C227.27 389.77 229.62 389.9 230.4 389.9" fill="none" stroke="#ff0000" stroke-width="0.8" stroke-linejoin="round"/>
<path d="M277.5 103 L280.01 103.82 L282.87 105.03 L286.01 105.87 L289.01 107.73 L291.97 109.24 L294.78 111.45 L297.67 113.62 L300.25 115.78 L302.95 117.79 L305.65 119.96 L308.35 122.04 L311.03 124.75 L313.69 126.96 L316.36 129.72 L319.05 132.3 L321.75 134.96 L324.45 137.63 L327.15 139.91 L329.82 141.07 L332.48 142.34 L335.15 142.94 L337.85 144.05 L340.55 145.7 L343.25 146.47 L345.94 147.44 L348.61 147.74 L351.28 147.69 L353.95 147.72 L356.75 148.2 L359.53 148.85 L362.03 149.52 L364.64 149.61 L367.45 148.53 L370.02 147.13 L373.36 145.55 L376.18 144.02 L379.15 142.18 L382.12 140.65 L384.99 139.15 L387.69 137.82 L390.38 136.44 L393.06 135.06 L395.75 133.84 L398.43 132.2 L401.11 130.89 L403.8 129.98 L406.57 129.07 L409.45 128.55 L412.36 127.88 L415.19 127.27 L417.86 126.69 L421.01 126.57 L423.91 125.98 L426.48 125.59 L429.39 125.53 L432.03 125.63 L435.31 125.23 L438.04 125.45 L440.9 125.77 L443.81 126.09 L446.67 126.17 L449.42 126.37 L452.38 126.52 L455.51 126.78 L458.62 127.48 L461.53 127.86 L464.05 127.84 L466.5 128.1 L466.5 138.8 L463.96 138.68 L461.31 138.84 L458.28 139.42 L455.11 139.21 L452.04 139.7 L449.3 139.47 L446.34 140.15 L443.19 140.06 L440.29 140.3 L437.3 140.47 L434.66 140.3 L431.96 140.61 L429.19 139.95 L426.31 139.44 L423.28 139.88 L420.06 139.87 L417.48 140.38 L414.8 140.5 L412.06 141.47 L409.28 142.08 L406.52 142.58 L403.8 143.5 L401.11 144.03 L398.43 145.28 L395.75 146.15 L393.06 147.38 L390.38 149.04 L387.69 150.05 L384.99 151.41 L382.12 152.75 L379.15 154.56 L376.18 156.77 L373.36 157.97 L370.02 160.12 L367.45 161.59 L364.64 162.33 L362.03 161.39 L359.53 161.28 L356.75 160.74 L353.95 160.45 L351.28 160.23 L348.61 159.55 L345.94 159.21 L343.25 158.49 L340.55 157.71 L337.85 156.44 L335.15 155.5 L332.48 154.18 L329.82 153.29 L327.15 151.63 L324.45 150.14 L321.75 147.87 L319.05 146.18 L316.36 144.24 L313.69 142.24 L311.03 140.34 L308.35 138.58 L305.65 136.63 L302.95 134.22 L300.25 132.15 L297.67 130.21 L294.78 127.8 L291.97 126.05 L289.01 124.31 L286.01 123.27 L282.87 121.62 L280.01 120.06 L277.5 119.2 Z" fill="#0000ff" fill-opacity="0.18" stroke="none"/>
<path d="M277.5 103 L280.01 103.82 L282.87 105.03 L286.01 105.87 L289.01 107.73 L291.97 109.24 L294.78 111.45 L297.67 113.62 L300.25 115.78 L302.95 117.79 L305.65 119.96 L308.35 122.04 L311.03 124.75 L313.69 126.96 L316.36 129.72 L319.05 132.3 L321.75 134.96 L324.45 137.63 L327.15 139.91 L329.82 141.07 L332.48 142.34 L335.15 142.94 L337.85 144.05 L340.55 145.7 L343.25 146.47 L345.94 147.44 L348.61 147.74 L351.28 147.69 L353.95 147.72 L356.75 148.2 L359.53 148.85 L362.03 149.52 L364.64 149.61 L367.45 148.53 L370.02 147.13 L373.36 145.55 L376.18 144.02 L379.15 142.18 L382.12 140.65 L384.99 139.15 L387.69 137.82 L390.38 136.44 L393.06 135.06 L395.75 133.84 L398.43 132.2 L401.11 130.89 L403.8 129.98 L406.57 129.07 L409.45 128.55 L412.36 127.88 L415.19 127.27 L417.86 126.69 L421.01 126.57 L423.91 125.98 L426.48 125.59 L429.39 125.53 L432.03 125.63 L435.31 125.23 L438.04 125.45 L440.9 125.77 L443.81 126.09 L446.67 126.17 L449.42 126.37 L452.38 126.52 L455.51 126.78 L458.62 127.48 L461.53 127.86 L464.05 127.84 L466.5 128.1" fill="none" stroke="#0000ff" stroke-opacity="0.25" stroke-width="0.7"/>
<path d="M277.5 119.2 L280.01 120.06 L282.87 121.62 L286.01 123.27 L289.01 124.31 L291.97 126.05 L294.78 127.8 L297.67 130.21 L300.25 132.15 L302.95 134.22 L305.65 136.63 L308.35 138.58 L311.03 140.34 L313.69 142.24 L316.36 144.24 L319.05 146.18 L321.75 147.87 L324.45 150.14 L327.15 151.63 L329.82 153.29 L332.48 154.18 L335.15 155.5 L337.85 156.44 L340.55 157.71 L343.25 158.49 L345.94 159.21 L348.61 159.55 L351.28 160.23 L353.95 160.45 L356.75 160.74 L359.53 161.28 L362.03 161.39 L364.64 162.33 L367.45 161.59 L370.02 160.12 L373.36 157.97 L376.18 156.77 L379.15 154.56 L382.12 152.75 L384.99 151.41 L387.69 150.05 L390.38 149.04 L393.06 147.38 L395.75 146.15 L398.43 145.28 L401.11 144.03 L403.8 143.5 L406.52 142.58 L409.28 142.08 L412.06 141.47 L414.8 140.5 L417.48 140.38 L420.06 139.87 L423.28 139.88 L426.31 139.44 L429.19 139.95 L431.96 140.61 L434.66 140.3 L437.3 140.47 L440.29 140.3 L443.19 140.06 L446.34 140.15 L449.3 139.47 L452.04 139.7 L455.11 139.21 L458.28 139.42 L461.31 138.84 L463.96 138.68 L466.5 138.8" fill="none" stroke="#0000ff" stroke-opacity="0.25" stroke-width="0.7"/>
<path d="M277.5 112 L280.15 113.01 L282.66 114.22 L285.39 115.51 L288.21 116.79 L290.9 118.34 L293.44 119.96 L296.15 121.9 L298.9 123.72 L301.6 125.55 L304.3 127.47 L307 129.63 L309.69 131.24 L312.36 133.5 L315.03 135.7 L317.7 137.93 L320.4 140.1 L323.1 142.59 L325.8 144.71 L328.48 146.23 L331.15 147.46 L333.82 149.03 L336.5 150.14 L339.2 150.95 L341.9 151.98 L344.6 152.79 L347.28 153.49 L349.94 153.67 L352.61 154.12 L355.33 154.81 L358.16 154.87 L360.83 155.07 L363.39 154.93 L365.93 154.85 L368.76 153.57 L371.32 152.4 L374.12 151.26 L376.9 149.59 L379.6 148.52 L382.3 146.67 L385 145.68 L387.68 143.96 L390.35 142.76 L393.02 141.79 L395.7 140.89 L398.4 139.8 L401.1 139.02 L403.8 137.97 L406.47 137.52 L409.14 136.5 L411.81 135.96 L414.5 135.55 L417.2 134.77 L419.9 134.08 L422.59 133.97 L425.26 133.28 L427.93 133.15 L430.6 132.92 L433.3 132.95 L436 132.83 L438.7 133.3 L441.39 133.26 L444.06 133.13 L446.72 133 L449.39 133.04 L452.05 132.98 L454.72 133.05 L457.4 133.09 L460.4 133.22 L463.01 132.9 L465.63 133.32 L466.5 133.1" fill="none" stroke="#0000ff" stroke-width="0.8" stroke-linejoin="round"/>
<path d="M277.5 102.2 L280.01 103.8 L282.87 105.57 L286.01 107.67 L289.01 109.61 L291.97 112.19 L294.78 114.49 L297.67 117.8 L300.25 120.58 L302.95 122.96 L305.65 125.55 L308.35 127.57 L311.03 130.04 L313.69 132.44 L316.36 134.72 L319.05 136.99 L321.75 139.55 L324.45 141.59 L327.15 143.64 L329.82 145.42 L332.48 146.76 L335.15 147.79 L337.85 148.53 L340.55 149.4 L343.25 150.42 L345.94 150.64 L348.61 151.51 L351.28 151.55 L353.95 151.9 L356.75 152.09 L359.53 152.31 L362.03 151.83 L364.64 150.6 L367.45 148.08 L370.02 146.39 L373.36 144.53 L376.18 142.53 L379.15 140.7 L382.12 138.42 L384.99 136.6 L387.69 135.14 L390.38 133.37 L393.06 131.66 L395.75 130.33 L398.43 128.8 L401.11 126.89 L403.8 125.46 L406.57 124.28 L409.45 123.14 L412.36 122.42 L415.19 121.26 L417.86 120.75 L421.01 119.15 L423.52 118.58 L426.31 117.34 L428.96 117 L431.5 116.33 L434.2 116.21 L436.9 116.61 L439.6 117.02 L442.36 116.72 L445.16 117.18 L447.85 118.02 L450.88 118.32 L453.8 118.74 L456.98 119.94 L460.16 120.65 L463.05 120.99 L466 121.51 L466.5 121.8 L466.5 133.5 L466 133.55 L463.05 133.48 L460.16 133.32 L456.98 133.04 L453.8 132.93 L450.88 132.74 L447.86 132.27 L445.07 132.1 L442.24 131.01 L439.6 130.72 L436.6 130.8 L434 130.74 L431.21 131.47 L428.32 131.47 L425.42 132.02 L422.61 132.51 L419.91 133.14 L417.23 133.99 L414.54 134.9 L411.86 135.54 L409.17 136.94 L406.49 137.86 L403.8 139.15 L401.11 139.77 L398.43 141.16 L395.75 142.79 L393.06 144.12 L390.38 144.93 L387.69 146.34 L384.99 147.69 L382.12 149.39 L379.15 151.15 L376.18 153.28 L373.36 154.94 L370.02 156.47 L367.45 157.7 L364.64 159.38 L362.03 160.14 L359.53 160.58 L356.75 160.98 L353.95 161.42 L351.28 161.82 L348.61 161.84 L345.94 161.7 L343.25 161.12 L340.55 160.4 L337.85 159.19 L335.15 158.1 L332.48 156.85 L329.82 155.21 L327.15 153.32 L324.45 151.34 L321.75 149.05 L319.05 146.86 L316.36 145.14 L313.69 142.7 L311.03 140.42 L308.35 138.47 L305.65 135.99 L302.95 133.82 L300.25 130.98 L297.67 129.05 L294.78 126.61 L291.97 124.5 L289.01 122.74 L286.01 120.83 L282.87 119.2 L280.01 117.56 L277.5 116.5 Z" fill="#ff0000" fill-opacity="0.18" stroke="none"/>
<path d="M277.5 102.2 L280.01 103.8 L282.87 105.57 L286.01 107.67 L289.01 109.61 L291.97 112.19 L294.78 114.49 L297.67 117.8 L300.25 120.58 L302.95 122.96 L305.65 125.55 L308.35 127.57 L311.03 130.04 L313.69 132.44 L316.36 134.72 L319.05 136.99 L321.75 139.55 L324.45 141.59 L327.15 143.64 L329.82 145.42 L332.48 146.76 L335.15 147.79 L337.85 148.53 L340.55 149.4 L343.25 150.42 L345.94 150.64 L348.61 151.51 L351.28 151.55 L353.95 151.9 L356.75 152.09 L359.53 152.31 L362.03 151.83 L364.64 150.6 L367.45 148.08 L370.02 146.39 L373.36 144.53 L376.18 142.53 L379.15 140.7 L382.12 138.42 L384.99 136.6 L387.69 135.14 L390.38 133.37 L393.06 131.66 L395.75 130.33 L398.43 128.8 L401.11 126.89 L403.8 125.46 L406.57 124.28 L409.45 123.14 L412.36 122.42 L415.19 121.26 L417.86 120.75 L421.01 119.15 L423.52 118.58 L426.31 117.34 L428.96 117 L431.5 116.33 L434.2 116.21 L436.9 116.61 L439.6 117.02 L442.36 116.72 L445.16 117.18 L447.85 118.02 L450.88 118.32 L453.8 118.74 L456.98 119.94 L460.16 120.65 L463.05 120.99 L466 121.51 L466.5 121.8" fill="none" stroke="#ff0000" stroke-opacity="0.25" stroke-width="0.7"/>
<path d="M277.5 116.5 L280.01 117.56 L282.87 119.2 L286.01 120.83 L289.01 122.74 L291.97 124.5 L294.78 126.61 L297.67 129.05 L300.25 130.98 L302.95 133.82 L305.65 135.99 L308.35 138.47 L311.03 140.42 L313.69 142.7 L316.36 145.14 L319.05 146.86 L321.75 149.05 L324.45 151.34 L327.15 153.32 L329.82 155.21 L332.48 156.85 L335.15 158.1 L337.85 159.19 L340.55 160.4 L343.25 161.12 L345.94 161.7 L348.61 161.84 L351.28 161.82 L353.95 161.42 L356.75 160.98 L359.53 160.58 L362.03 160.14 L364.64 159.38 L367.45 157.7 L370.02 156.47 L373.36 154.94 L376.18 153.28 L379.15 151.15 L382.12 149.39 L384.99 147.69 L387.69 146.34 L390.38 144.93 L393.06 144.12 L395.75 142.79 L398.43 141.16 L401.11 139.77 L403.8 139.15 L406.49 137.86 L409.17 136.94 L411.86 135.54 L414.54 134.9 L417.23 133.99 L419.91 133.14 L422.61 132.51 L425.42 132.02 L428.32 131.47 L431.21 131.47 L434 130.74 L436.6 130.8 L439.6 130.72 L442.24 131.01 L445.07 132.1 L447.86 132.27 L450.88 132.74 L453.8 132.93 L456.98 133.04 L460.16 133.32 L463.05 133.48 L466 133.55 L466.5 133.5" fill="none" stroke="#ff0000" stroke-opacity="0.25" stroke-width="0.7"/>
<path d="M277.5 109 L280.15 110.16 L282.66 111.57 L285.39 112.91 L288.21 115.16 L290.9 117.17 L293.44 119.68 L296.15 121.91 L298.9 124.49 L301.6 127.19 L304.3 129.28 L307 131.77 L309.69 134.15 L312.36 136.56 L315.03 138.48 L317.7 140.66 L320.4 143.04 L323.1 144.98 L325.8 147.17 L328.48 148.71 L331.15 150.37 L333.82 151.18 L336.5 152.73 L339.2 153.75 L341.9 154.98 L344.6 155.64 L347.28 156.53 L349.94 156.48 L352.61 156.66 L355.33 156.95 L358.16 156.73 L360.83 156.38 L363.39 155.79 L365.93 154.86 L368.76 153.08 L371.32 151.52 L374.12 149.8 L376.9 148.31 L379.6 146.3 L382.3 144.79 L385 143.45 L387.68 141.95 L390.35 140.62 L393.02 139.36 L395.7 137.92 L398.4 136.53 L401.1 135.02 L403.8 133.92 L406.47 132.36 L409.14 131.2 L411.81 130.15 L414.5 129.06 L417.2 128.35 L419.9 127.43 L422.59 126.28 L425.26 125.38 L427.93 124.78 L430.6 123.88 L433.3 123.98 L436 124.07 L438.7 124.25 L441.39 124.88 L444.06 124.96 L446.72 125.06 L449.39 125.56 L452.05 125.83 L454.72 126.52 L457.4 126.56 L460.4 127.21 L463.01 127.68 L465.63 128.09 L466.5 128.1" fill="none" stroke="#ff0000" stroke-width="0.8" stroke-linejoin="round"/>
<path d="M277.5 240.6 C278.42 241.08 281.18 242.53 283 243.5 C284.82 244.47 286.38 245.07 288.4 246.4 C290.42 247.73 292.87 249.42 295.1 251.5 C297.33 253.58 299.57 256.55 301.8 258.9 C304.03 261.25 306.27 263.48 308.5 265.6 C310.73 267.72 312.97 269.82 315.2 271.6 C317.43 273.38 319.67 275.07 321.9 276.3 C324.13 277.53 326.37 278.32 328.6 279 C330.83 279.68 333.4 279.83 335.3 280.4 C337.2 280.97 338.1 282.02 340 282.4 C341.9 282.78 344.47 282.7 346.7 282.7 C348.93 282.7 351.17 282.63 353.4 282.4 C355.63 282.17 357.87 281.8 360.1 281.3 C362.33 280.8 364.57 280.03 366.8 279.4 C369.03 278.77 371.25 278.2 373.5 277.5 C375.75 276.8 378.05 275.95 380.3 275.2 C382.55 274.45 384.77 273.7 387 273 C389.23 272.3 391.47 271.67 393.7 271 C395.93 270.33 398.23 269.45 400.4 269 C402.57 268.55 404.53 268.52 406.7 268.3 C408.87 268.08 411.17 267.95 413.4 267.7 C415.63 267.45 417.87 267.08 420.1 266.8 C422.33 266.52 424.57 266.27 426.8 266 C429.03 265.73 431.25 265.43 433.5 265.2 C435.75 264.97 438.05 264.83 440.3 264.6 C442.55 264.37 444.77 263.98 447 263.8 C449.23 263.62 451.47 263.6 453.7 263.5 C455.93 263.4 458.22 263.18 460.4 263.2 C462.58 263.22 465.73 263.53 466.8 263.6 L466.8 270.8 C465.73 270.73 462.58 270.42 460.4 270.4 C458.22 270.38 455.93 270.6 453.7 270.7 C451.47 270.8 449.23 270.82 447 271 C444.77 271.18 442.55 271.57 440.3 271.8 C438.05 272.03 435.75 272.17 433.5 272.4 C431.25 272.63 429.03 272.93 426.8 273.2 C424.57 273.47 422.33 273.72 420.1 274 C417.87 274.28 415.63 274.65 413.4 274.9 C411.17 275.15 408.87 275.28 406.7 275.5 C404.53 275.72 402.57 275.75 400.4 276.2 C398.23 276.65 395.93 277.53 393.7 278.2 C391.47 278.87 389.23 279.5 387 280.2 C384.77 280.9 382.55 281.65 380.3 282.4 C378.05 283.15 375.75 284 373.5 284.7 C371.25 285.4 369.03 285.97 366.8 286.6 C364.57 287.23 362.33 288 360.1 288.5 C357.87 289 355.63 289.37 353.4 289.6 C351.17 289.83 348.93 289.9 346.7 289.9 C344.47 289.9 341.9 289.98 340 289.6 C338.1 289.22 337.2 288.17 335.3 287.6 C333.4 287.03 330.83 286.88 328.6 286.2 C326.37 285.52 324.13 284.73 321.9 283.5 C319.67 282.27 317.43 280.58 315.2 278.8 C312.97 277.02 310.73 274.92 308.5 272.8 C306.27 270.68 304.03 268.45 301.8 266.1 C299.57 263.75 297.33 260.78 295.1 258.7 C292.87 256.62 290.42 254.93 288.4 253.6 C286.38 252.27 284.82 251.67 283 250.7 C281.18 249.73 278.42 248.28 277.5 247.8 Z" fill="#0000ff" fill-opacity="0.18" stroke="none"/>
<path d="M277.5 240.6 C278.42 241.08 281.18 242.53 283 243.5 C284.82 244.47 286.38 245.07 288.4 246.4 C290.42 247.73 292.87 249.42 295.1 251.5 C297.33 253.58 299.57 256.55 301.8 258.9 C304.03 261.25 306.27 263.48 308.5 265.6 C310.73 267.72 312.97 269.82 315.2 271.6 C317.43 273.38 319.67 275.07 321.9 276.3 C324.13 277.53 326.37 278.32 328.6 279 C330.83 279.68 333.4 279.83 335.3 280.4 C337.2 280.97 338.1 282.02 340 282.4 C341.9 282.78 344.47 282.7 346.7 282.7 C348.93 282.7 351.17 282.63 353.4 282.4 C355.63 282.17 357.87 281.8 360.1 281.3 C362.33 280.8 364.57 280.03 366.8 279.4 C369.03 278.77 371.25 278.2 373.5 277.5 C375.75 276.8 378.05 275.95 380.3 275.2 C382.55 274.45 384.77 273.7 387 273 C389.23 272.3 391.47 271.67 393.7 271 C395.93 270.33 398.23 269.45 400.4 269 C402.57 268.55 404.53 268.52 406.7 268.3 C408.87 268.08 411.17 267.95 413.4 267.7 C415.63 267.45 417.87 267.08 420.1 266.8 C422.33 266.52 424.57 266.27 426.8 266 C429.03 265.73 431.25 265.43 433.5 265.2 C435.75 264.97 438.05 264.83 440.3 264.6 C442.55 264.37 444.77 263.98 447 263.8 C449.23 263.62 451.47 263.6 453.7 263.5 C455.93 263.4 458.22 263.18 460.4 263.2 C462.58 263.22 465.73 263.53 466.8 263.6" fill="none" stroke="#0000ff" stroke-opacity="0.45" stroke-width="0.7"/>
<path d="M277.5 247.8 C278.42 248.28 281.18 249.73 283 250.7 C284.82 251.67 286.38 252.27 288.4 253.6 C290.42 254.93 292.87 256.62 295.1 258.7 C297.33 260.78 299.57 263.75 301.8 266.1 C304.03 268.45 306.27 270.68 308.5 272.8 C310.73 274.92 312.97 277.02 315.2 278.8 C317.43 280.58 319.67 282.27 321.9 283.5 C324.13 284.73 326.37 285.52 328.6 286.2 C330.83 286.88 333.4 287.03 335.3 287.6 C337.2 288.17 338.1 289.22 340 289.6 C341.9 289.98 344.47 289.9 346.7 289.9 C348.93 289.9 351.17 289.83 353.4 289.6 C355.63 289.37 357.87 289 360.1 288.5 C362.33 288 364.57 287.23 366.8 286.6 C369.03 285.97 371.25 285.4 373.5 284.7 C375.75 284 378.05 283.15 380.3 282.4 C382.55 281.65 384.77 280.9 387 280.2 C389.23 279.5 391.47 278.87 393.7 278.2 C395.93 277.53 398.23 276.65 400.4 276.2 C402.57 275.75 404.53 275.72 406.7 275.5 C408.87 275.28 411.17 275.15 413.4 274.9 C415.63 274.65 417.87 274.28 420.1 274 C422.33 273.72 424.57 273.47 426.8 273.2 C429.03 272.93 431.25 272.63 433.5 272.4 C435.75 272.17 438.05 272.03 440.3 271.8 C442.55 271.57 444.77 271.18 447 271 C449.23 270.82 451.47 270.8 453.7 270.7 C455.93 270.6 458.22 270.38 460.4 270.4 C462.58 270.42 465.73 270.73 466.8 270.8" fill="none" stroke="#0000ff" stroke-opacity="0.45" stroke-width="0.7"/>
<path d="M277.5 244.2 C278.42 244.68 281.18 246.13 283 247.1 C284.82 248.07 286.38 248.67 288.4 250 C290.42 251.33 292.87 253.02 295.1 255.1 C297.33 257.18 299.57 260.15 301.8 262.5 C304.03 264.85 306.27 267.08 308.5 269.2 C310.73 271.32 312.97 273.42 315.2 275.2 C317.43 276.98 319.67 278.67 321.9 279.9 C324.13 281.13 326.37 281.92 328.6 282.6 C330.83 283.28 333.4 283.43 335.3 284 C337.2 284.57 338.1 285.62 340 286 C341.9 286.38 344.47 286.3 346.7 286.3 C348.93 286.3 351.17 286.23 353.4 286 C355.63 285.77 357.87 285.4 360.1 284.9 C362.33 284.4 364.57 283.63 366.8 283 C369.03 282.37 371.25 281.8 373.5 281.1 C375.75 280.4 378.05 279.55 380.3 278.8 C382.55 278.05 384.77 277.3 387 276.6 C389.23 275.9 391.47 275.27 393.7 274.6 C395.93 273.93 398.23 273.05 400.4 272.6 C402.57 272.15 404.53 272.12 406.7 271.9 C408.87 271.68 411.17 271.55 413.4 271.3 C415.63 271.05 417.87 270.68 420.1 270.4 C422.33 270.12 424.57 269.87 426.8 269.6 C429.03 269.33 431.25 269.03 433.5 268.8 C435.75 268.57 438.05 268.43 440.3 268.2 C442.55 267.97 444.77 267.58 447 267.4 C449.23 267.22 451.47 267.2 453.7 267.1 C455.93 267 458.22 266.78 460.4 266.8 C462.58 266.82 465.73 267.13 466.8 267.2" fill="none" stroke="#0000ff" stroke-width="0.8" stroke-linejoin="round"/>
<path d="M277.5 239.9 C278.42 240.38 281.18 241.8 283 242.8 C284.82 243.8 286.38 244.57 288.4 245.9 C290.42 247.23 292.87 248.75 295.1 250.8 C297.33 252.85 299.57 255.62 301.8 258.2 C304.03 260.78 306.27 263.83 308.5 266.3 C310.73 268.77 312.97 271.1 315.2 273 C317.43 274.9 319.67 276.47 321.9 277.7 C324.13 278.93 326.37 279.73 328.6 280.4 C330.83 281.07 333.4 281.4 335.3 281.7 C337.2 282 338.1 282.15 340 282.2 C341.9 282.25 344.47 282.15 346.7 282 C348.93 281.85 351.17 281.65 353.4 281.3 C355.63 280.95 357.87 280.4 360.1 279.9 C362.33 279.4 364.57 278.95 366.8 278.3 C369.03 277.65 371.25 276.75 373.5 276 C375.75 275.25 378.05 274.6 380.3 273.8 C382.55 273 384.77 272.03 387 271.2 C389.23 270.37 391.47 269.58 393.7 268.8 C395.93 268.02 398.23 267.15 400.4 266.5 C402.57 265.85 404.53 265.35 406.7 264.9 C408.87 264.45 411.17 264.35 413.4 263.8 C415.63 263.25 417.87 262.25 420.1 261.6 C422.33 260.95 424.57 260.47 426.8 259.9 C429.03 259.33 431.25 258.62 433.5 258.2 C435.75 257.78 438.05 257.72 440.3 257.4 C442.55 257.08 444.77 256.53 447 256.3 C449.23 256.07 451.47 256 453.7 256 C455.93 256 458.22 256.03 460.4 256.3 C462.58 256.57 465.73 257.38 466.8 257.6 L466.8 264.8 C465.73 264.58 462.58 263.77 460.4 263.5 C458.22 263.23 455.93 263.2 453.7 263.2 C451.47 263.2 449.23 263.27 447 263.5 C444.77 263.73 442.55 264.28 440.3 264.6 C438.05 264.92 435.75 264.98 433.5 265.4 C431.25 265.82 429.03 266.53 426.8 267.1 C424.57 267.67 422.33 268.15 420.1 268.8 C417.87 269.45 415.63 270.45 413.4 271 C411.17 271.55 408.87 271.65 406.7 272.1 C404.53 272.55 402.57 273.05 400.4 273.7 C398.23 274.35 395.93 275.22 393.7 276 C391.47 276.78 389.23 277.57 387 278.4 C384.77 279.23 382.55 280.2 380.3 281 C378.05 281.8 375.75 282.45 373.5 283.2 C371.25 283.95 369.03 284.85 366.8 285.5 C364.57 286.15 362.33 286.6 360.1 287.1 C357.87 287.6 355.63 288.15 353.4 288.5 C351.17 288.85 348.93 289.05 346.7 289.2 C344.47 289.35 341.9 289.45 340 289.4 C338.1 289.35 337.2 289.2 335.3 288.9 C333.4 288.6 330.83 288.27 328.6 287.6 C326.37 286.93 324.13 286.13 321.9 284.9 C319.67 283.67 317.43 282.1 315.2 280.2 C312.97 278.3 310.73 275.97 308.5 273.5 C306.27 271.03 304.03 267.98 301.8 265.4 C299.57 262.82 297.33 260.05 295.1 258 C292.87 255.95 290.42 254.43 288.4 253.1 C286.38 251.77 284.82 251 283 250 C281.18 249 278.42 247.58 277.5 247.1 Z" fill="#ff0000" fill-opacity="0.18" stroke="none"/>
<path d="M277.5 239.9 C278.42 240.38 281.18 241.8 283 242.8 C284.82 243.8 286.38 244.57 288.4 245.9 C290.42 247.23 292.87 248.75 295.1 250.8 C297.33 252.85 299.57 255.62 301.8 258.2 C304.03 260.78 306.27 263.83 308.5 266.3 C310.73 268.77 312.97 271.1 315.2 273 C317.43 274.9 319.67 276.47 321.9 277.7 C324.13 278.93 326.37 279.73 328.6 280.4 C330.83 281.07 333.4 281.4 335.3 281.7 C337.2 282 338.1 282.15 340 282.2 C341.9 282.25 344.47 282.15 346.7 282 C348.93 281.85 351.17 281.65 353.4 281.3 C355.63 280.95 357.87 280.4 360.1 279.9 C362.33 279.4 364.57 278.95 366.8 278.3 C369.03 277.65 371.25 276.75 373.5 276 C375.75 275.25 378.05 274.6 380.3 273.8 C382.55 273 384.77 272.03 387 271.2 C389.23 270.37 391.47 269.58 393.7 268.8 C395.93 268.02 398.23 267.15 400.4 266.5 C402.57 265.85 404.53 265.35 406.7 264.9 C408.87 264.45 411.17 264.35 413.4 263.8 C415.63 263.25 417.87 262.25 420.1 261.6 C422.33 260.95 424.57 260.47 426.8 259.9 C429.03 259.33 431.25 258.62 433.5 258.2 C435.75 257.78 438.05 257.72 440.3 257.4 C442.55 257.08 444.77 256.53 447 256.3 C449.23 256.07 451.47 256 453.7 256 C455.93 256 458.22 256.03 460.4 256.3 C462.58 256.57 465.73 257.38 466.8 257.6" fill="none" stroke="#ff0000" stroke-opacity="0.45" stroke-width="0.7"/>
<path d="M277.5 247.1 C278.42 247.58 281.18 249 283 250 C284.82 251 286.38 251.77 288.4 253.1 C290.42 254.43 292.87 255.95 295.1 258 C297.33 260.05 299.57 262.82 301.8 265.4 C304.03 267.98 306.27 271.03 308.5 273.5 C310.73 275.97 312.97 278.3 315.2 280.2 C317.43 282.1 319.67 283.67 321.9 284.9 C324.13 286.13 326.37 286.93 328.6 287.6 C330.83 288.27 333.4 288.6 335.3 288.9 C337.2 289.2 338.1 289.35 340 289.4 C341.9 289.45 344.47 289.35 346.7 289.2 C348.93 289.05 351.17 288.85 353.4 288.5 C355.63 288.15 357.87 287.6 360.1 287.1 C362.33 286.6 364.57 286.15 366.8 285.5 C369.03 284.85 371.25 283.95 373.5 283.2 C375.75 282.45 378.05 281.8 380.3 281 C382.55 280.2 384.77 279.23 387 278.4 C389.23 277.57 391.47 276.78 393.7 276 C395.93 275.22 398.23 274.35 400.4 273.7 C402.57 273.05 404.53 272.55 406.7 272.1 C408.87 271.65 411.17 271.55 413.4 271 C415.63 270.45 417.87 269.45 420.1 268.8 C422.33 268.15 424.57 267.67 426.8 267.1 C429.03 266.53 431.25 265.82 433.5 265.4 C435.75 264.98 438.05 264.92 440.3 264.6 C442.55 264.28 444.77 263.73 447 263.5 C449.23 263.27 451.47 263.2 453.7 263.2 C455.93 263.2 458.22 263.23 460.4 263.5 C462.58 263.77 465.73 264.58 466.8 264.8" fill="none" stroke="#ff0000" stroke-opacity="0.45" stroke-width="0.7"/>
<path d="M277.5 243.5 C278.42 243.98 281.18 245.4 283 246.4 C284.82 247.4 286.38 248.17 288.4 249.5 C290.42 250.83 292.87 252.35 295.1 254.4 C297.33 256.45 299.57 259.22 301.8 261.8 C304.03 264.38 306.27 267.43 308.5 269.9 C310.73 272.37 312.97 274.7 315.2 276.6 C317.43 278.5 319.67 280.07 321.9 281.3 C324.13 282.53 326.37 283.33 328.6 284 C330.83 284.67 333.4 285 335.3 285.3 C337.2 285.6 338.1 285.75 340 285.8 C341.9 285.85 344.47 285.75 346.7 285.6 C348.93 285.45 351.17 285.25 353.4 284.9 C355.63 284.55 357.87 284 360.1 283.5 C362.33 283 364.57 282.55 366.8 281.9 C369.03 281.25 371.25 280.35 373.5 279.6 C375.75 278.85 378.05 278.2 380.3 277.4 C382.55 276.6 384.77 275.63 387 274.8 C389.23 273.97 391.47 273.18 393.7 272.4 C395.93 271.62 398.23 270.75 400.4 270.1 C402.57 269.45 404.53 268.95 406.7 268.5 C408.87 268.05 411.17 267.95 413.4 267.4 C415.63 266.85 417.87 265.85 420.1 265.2 C422.33 264.55 424.57 264.07 426.8 263.5 C429.03 262.93 431.25 262.22 433.5 261.8 C435.75 261.38 438.05 261.32 440.3 261 C442.55 260.68 444.77 260.13 447 259.9 C449.23 259.67 451.47 259.6 453.7 259.6 C455.93 259.6 458.22 259.63 460.4 259.9 C462.58 260.17 465.73 260.98 466.8 261.2" fill="none" stroke="#ff0000" stroke-width="0.8" stroke-linejoin="round"/>
<path d="M277.3 363.3 L279.96 364.18 L282.5 365.31 L285.27 366.83 L287.83 367.85 L290.34 369.61 L293.13 371.19 L295.93 373.24 L298.44 375.39 L300.97 378.29 L303.49 381.39 L306.02 385.49 L308.52 389.14 L311.31 393.23 L314.1 397.12 L316.62 399.56 L319.14 402.25 L321.64 404.28 L324.43 405.71 L327.23 407.67 L329.74 408.65 L332.27 409.71 L334.79 410.36 L337.32 410.98 L339.82 411.15 L342.61 410.1 L345.4 409.11 L347.92 407.91 L350.44 406.48 L352.94 404.72 L355.73 402.41 L358.53 400.14 L361.07 398.12 L363.59 396.19 L366.32 394.71 L368.94 393.28 L371.64 391.5 L374.18 390.2 L376.72 389.09 L379.32 388.6 L381.91 387.22 L384.6 386.46 L387.29 385.56 L389.88 384.94 L392.39 384.96 L395.06 385.04 L397.66 386.14 L400.41 387.68 L403.03 389.39 L405.63 391.62 L408.24 393.38 L410.84 394.88 L413.48 396.43 L416.14 398.14 L418.78 399.5 L421.39 400.73 L424 402.19 L426.65 403.03 L429.31 403.77 L431.94 404.24 L434.54 404.65 L437.15 405.09 L439.75 405.67 L442.38 405.9 L445.04 406.65 L447.69 407.04 L450.3 407.33 L452.91 407.23 L455.63 407.79 L458.3 408.26 L460.96 408.92 L463.6 409.62 L466.28 410.22 L467.1 410.7 L467.1 417.7 L466.28 417.5 L463.6 416.74 L460.96 415.67 L458.3 415 L455.63 414.98 L452.91 414.23 L450.3 414.14 L447.69 414.16 L445.04 413.76 L442.38 413.08 L439.75 412.54 L437.15 411.99 L434.54 411.59 L431.94 411.07 L429.31 410.55 L426.65 410.04 L424 409.1 L421.39 408.02 L418.78 406.21 L416.14 404.87 L413.48 403.61 L410.84 401.88 L408.24 400.19 L405.63 398.25 L403.03 396.41 L400.41 394.71 L397.66 393.26 L395.06 392.27 L392.39 391.99 L389.88 391.99 L387.29 392.62 L384.6 393.56 L381.91 394.05 L379.32 395.08 L376.72 395.92 L374.18 396.61 L371.64 397.77 L368.94 399.13 L366.32 400.62 L363.59 402.3 L361.07 403.66 L358.53 405.74 L355.73 407.72 L352.94 410.18 L350.44 411.91 L347.92 413.25 L345.4 414.5 L342.61 415.71 L339.82 416.45 L337.32 416.31 L334.79 415.69 L332.27 415.14 L329.74 414.11 L327.23 412.67 L324.43 411.38 L321.64 409.62 L319.14 407.7 L316.62 404.89 L314.1 402.36 L311.31 398.67 L308.52 394.84 L306.02 391 L303.49 386.9 L300.97 383.57 L298.44 380.95 L295.93 378.6 L293.13 376.65 L290.34 374.93 L287.83 373.46 L285.27 372.17 L282.5 370.9 L279.96 369.74 L277.3 368.7 Z" fill="#0000ff" fill-opacity="0.18" stroke="none"/>
<path d="M277.3 363.3 L279.96 364.18 L282.5 365.31 L285.27 366.83 L287.83 367.85 L290.34 369.61 L293.13 371.19 L295.93 373.24 L298.44 375.39 L300.97 378.29 L303.49 381.39 L306.02 385.49 L308.52 389.14 L311.31 393.23 L314.1 397.12 L316.62 399.56 L319.14 402.25 L321.64 404.28 L324.43 405.71 L327.23 407.67 L329.74 408.65 L332.27 409.71 L334.79 410.36 L337.32 410.98 L339.82 411.15 L342.61 410.1 L345.4 409.11 L347.92 407.91 L350.44 406.48 L352.94 404.72 L355.73 402.41 L358.53 400.14 L361.07 398.12 L363.59 396.19 L366.32 394.71 L368.94 393.28 L371.64 391.5 L374.18 390.2 L376.72 389.09 L379.32 388.6 L381.91 387.22 L384.6 386.46 L387.29 385.56 L389.88 384.94 L392.39 384.96 L395.06 385.04 L397.66 386.14 L400.41 387.68 L403.03 389.39 L405.63 391.62 L408.24 393.38 L410.84 394.88 L413.48 396.43 L416.14 398.14 L418.78 399.5 L421.39 400.73 L424 402.19 L426.65 403.03 L429.31 403.77 L431.94 404.24 L434.54 404.65 L437.15 405.09 L439.75 405.67 L442.38 405.9 L445.04 406.65 L447.69 407.04 L450.3 407.33 L452.91 407.23 L455.63 407.79 L458.3 408.26 L460.96 408.92 L463.6 409.62 L466.28 410.22 L467.1 410.7" fill="none" stroke="#0000ff" stroke-opacity="0.45" stroke-width="0.7"/>
<path d="M277.3 368.7 L279.96 369.74 L282.5 370.9 L285.27 372.17 L287.83 373.46 L290.34 374.93 L293.13 376.65 L295.93 378.6 L298.44 380.95 L300.97 383.57 L303.49 386.9 L306.02 391 L308.52 394.84 L311.31 398.67 L314.1 402.36 L316.62 404.89 L319.14 407.7 L321.64 409.62 L324.43 411.38 L327.23 412.67 L329.74 414.11 L332.27 415.14 L334.79 415.69 L337.32 416.31 L339.82 416.45 L342.61 415.71 L345.4 414.5 L347.92 413.25 L350.44 411.91 L352.94 410.18 L355.73 407.72 L358.53 405.74 L361.07 403.66 L363.59 402.3 L366.32 400.62 L368.94 399.13 L371.64 397.77 L374.18 396.61 L376.72 395.92 L379.32 395.08 L381.91 394.05 L384.6 393.56 L387.29 392.62 L389.88 391.99 L392.39 391.99 L395.06 392.27 L397.66 393.26 L400.41 394.71 L403.03 396.41 L405.63 398.25 L408.24 400.19 L410.84 401.88 L413.48 403.61 L416.14 404.87 L418.78 406.21 L421.39 408.02 L424 409.1 L426.65 410.04 L429.31 410.55 L431.94 411.07 L434.54 411.59 L437.15 411.99 L439.75 412.54 L442.38 413.08 L445.04 413.76 L447.69 414.16 L450.3 414.14 L452.91 414.23 L455.63 414.98 L458.3 415 L460.96 415.67 L463.6 416.74 L466.28 417.5 L467.1 417.7" fill="none" stroke="#0000ff" stroke-opacity="0.45" stroke-width="0.7"/>
<path d="M277.3 366 L279.96 367.25 L282.5 368.16 L285.27 369.47 L287.83 370.66 L290.34 371.94 L293.13 373.67 L295.93 375.69 L298.44 377.96 L300.97 380.7 L303.49 384.03 L306.02 388.16 L308.52 391.75 L311.31 395.98 L314.1 399.55 L316.62 402.56 L319.14 404.89 L321.64 406.96 L324.43 408.67 L327.23 410.23 L329.74 411.55 L332.27 412.59 L334.79 413.02 L337.32 413.57 L339.82 413.55 L342.61 412.76 L345.4 411.81 L347.92 410.63 L350.44 408.83 L352.94 407.2 L355.73 405.36 L358.53 402.86 L361.07 400.88 L363.59 399.36 L366.32 397.47 L368.94 396.04 L371.64 394.86 L374.18 393.47 L376.72 392.62 L379.32 391.76 L381.91 391.08 L384.6 390.28 L387.29 389.5 L389.88 388.69 L392.39 388.52 L395.06 388.75 L397.66 389.69 L400.41 391.18 L403.03 393.04 L405.63 395.23 L408.24 396.75 L410.84 398.6 L413.48 400.14 L416.14 401.6 L418.78 403.02 L421.39 404.33 L424 405.78 L426.65 406.44 L429.31 406.98 L431.94 407.96 L434.54 408.33 L437.15 408.74 L439.75 409.01 L442.38 409.62 L445.04 410.32 L447.69 410.71 L450.3 410.6 L452.91 410.89 L455.63 411.55 L458.3 411.91 L460.96 412.49 L463.6 413.11 L466.28 414.11 L467.1 414.3" fill="none" stroke="#0000ff" stroke-width="0.8" stroke-linejoin="round"/>
<path d="M277.3 363.9 L279.96 365.19 L282.5 366.49 L285.27 367.69 L287.83 368.81 L290.34 370.22 L293.13 371.94 L295.93 373.9 L298.44 376.25 L300.97 378.87 L303.49 382.19 L306.02 386.28 L308.52 390.16 L311.31 394.16 L314.1 397.96 L316.62 400.34 L319.14 402.94 L321.64 404.86 L324.43 406.88 L327.23 408.41 L329.79 409.95 L332.3 411.12 L334.88 412.09 L337.58 413.17 L340.3 413.09 L343.04 411.92 L345.71 410.4 L348.21 408.7 L350.73 407.04 L353.25 405.09 L355.77 402.73 L358.53 400.53 L361.28 397.84 L364.05 395.4 L366.81 392.19 L369.38 389.03 L371.98 386.04 L374.62 383.32 L377.16 381.69 L379.87 379.95 L382.51 378.11 L385.19 377.14 L387.89 376.14 L390.4 375.7 L393 376.01 L395.6 376.68 L398.28 377.89 L400.99 379.47 L403.61 381.24 L406.21 383.07 L408.82 385.31 L411.42 387.41 L414.07 388.95 L416.73 389.57 L419.36 390.25 L421.97 391.35 L424.59 391.83 L427.25 392.42 L429.9 392.7 L432.52 392.87 L435.12 393.13 L437.73 393.49 L440.33 394.17 L442.97 394.83 L445.63 395.58 L448.27 396.49 L450.88 397.62 L453.49 398.91 L456.24 400.58 L458.84 401.42 L461.39 403.09 L464.02 405.17 L466.61 406.66 L467.1 406.9 L467.1 415 L466.61 414.77 L464.02 413.01 L461.39 411.41 L458.84 409.85 L456.24 408.69 L453.49 407.05 L450.88 405.56 L448.27 404.58 L445.63 403.67 L442.97 402.86 L440.33 402.11 L437.73 401.74 L435.12 401.37 L432.52 401.31 L429.9 400.59 L427.25 400.32 L424.59 400.05 L421.97 399.14 L419.36 398.56 L416.73 397.8 L414.07 397.01 L411.42 395.66 L408.82 393.35 L406.21 391.58 L403.61 389.38 L400.99 387.46 L398.28 385.84 L395.6 384.68 L393 384.07 L390.4 383.9 L387.89 384.57 L385.19 385.38 L382.51 386.59 L379.87 387.94 L377.16 389.56 L374.62 391.14 L371.98 393.93 L369.38 396.5 L366.81 399.44 L364.05 402.7 L361.28 405.03 L358.53 407.43 L355.77 410.03 L353.25 411.55 L350.73 413.25 L348.21 415.33 L345.71 416.82 L343.04 417.9 L340.3 418.99 L337.58 419.09 L334.88 417.92 L332.3 417.03 L329.79 415.78 L327.23 414.3 L324.43 412.47 L321.64 410.52 L319.14 408.44 L316.62 406.34 L314.1 403.44 L311.31 399.79 L308.52 395.34 L306.02 391.74 L303.49 387.58 L300.97 384.27 L298.44 381.52 L295.93 379.26 L293.13 377.24 L290.34 375.49 L287.83 374.3 L285.27 373.29 L282.5 372.06 L279.96 371.03 L277.3 369.5 Z" fill="#ff0000" fill-opacity="0.18" stroke="none"/>
<path d="M277.3 363.9 L279.96 365.19 L282.5 366.49 L285.27 367.69 L287.83 368.81 L290.34 370.22 L293.13 371.94 L295.93 373.9 L298.44 376.25 L300.97 378.87 L303.49 382.19 L306.02 386.28 L308.52 390.16 L311.31 394.16 L314.1 397.96 L316.62 400.34 L319.14 402.94 L321.64 404.86 L324.43 406.88 L327.23 408.41 L329.79 409.95 L332.3 411.12 L334.88 412.09 L337.58 413.17 L340.3 413.09 L343.04 411.92 L345.71 410.4 L348.21 408.7 L350.73 407.04 L353.25 405.09 L355.77 402.73 L358.53 400.53 L361.28 397.84 L364.05 395.4 L366.81 392.19 L369.38 389.03 L371.98 386.04 L374.62 383.32 L377.16 381.69 L379.87 379.95 L382.51 378.11 L385.19 377.14 L387.89 376.14 L390.4 375.7 L393 376.01 L395.6 376.68 L398.28 377.89 L400.99 379.47 L403.61 381.24 L406.21 383.07 L408.82 385.31 L411.42 387.41 L414.07 388.95 L416.73 389.57 L419.36 390.25 L421.97 391.35 L424.59 391.83 L427.25 392.42 L429.9 392.7 L432.52 392.87 L435.12 393.13 L437.73 393.49 L440.33 394.17 L442.97 394.83 L445.63 395.58 L448.27 396.49 L450.88 397.62 L453.49 398.91 L456.24 400.58 L458.84 401.42 L461.39 403.09 L464.02 405.17 L466.61 406.66 L467.1 406.9" fill="none" stroke="#ff0000" stroke-opacity="0.45" stroke-width="0.7"/>
<path d="M277.3 369.5 L279.96 371.03 L282.5 372.06 L285.27 373.29 L287.83 374.3 L290.34 375.49 L293.13 377.24 L295.93 379.26 L298.44 381.52 L300.97 384.27 L303.49 387.58 L306.02 391.74 L308.52 395.34 L311.31 399.79 L314.1 403.44 L316.62 406.34 L319.14 408.44 L321.64 410.52 L324.43 412.47 L327.23 414.3 L329.79 415.78 L332.3 417.03 L334.88 417.92 L337.58 419.09 L340.3 418.99 L343.04 417.9 L345.71 416.82 L348.21 415.33 L350.73 413.25 L353.25 411.55 L355.77 410.03 L358.53 407.43 L361.28 405.03 L364.05 402.7 L366.81 399.44 L369.38 396.5 L371.98 393.93 L374.62 391.14 L377.16 389.56 L379.87 387.94 L382.51 386.59 L385.19 385.38 L387.89 384.57 L390.4 383.9 L393 384.07 L395.6 384.68 L398.28 385.84 L400.99 387.46 L403.61 389.38 L406.21 391.58 L408.82 393.35 L411.42 395.66 L414.07 397.01 L416.73 397.8 L419.36 398.56 L421.97 399.14 L424.59 400.05 L427.25 400.32 L429.9 400.59 L432.52 401.31 L435.12 401.37 L437.73 401.74 L440.33 402.11 L442.97 402.86 L445.63 403.67 L448.27 404.58 L450.88 405.56 L453.49 407.05 L456.24 408.69 L458.84 409.85 L461.39 411.41 L464.02 413.01 L466.61 414.77 L467.1 415" fill="none" stroke="#ff0000" stroke-opacity="0.45" stroke-width="0.7"/>
<path d="M277.3 366.7 L279.96 368.05 L282.5 369.11 L285.27 370.37 L287.83 371.54 L290.34 372.68 L293.13 374.51 L295.93 376.8 L298.44 378.88 L300.97 381.77 L303.49 385.19 L306.02 388.73 L308.52 392.53 L311.31 396.9 L314.1 400.88 L316.62 403.33 L319.14 405.68 L321.64 407.66 L324.43 409.43 L327.23 411.36 L329.79 412.8 L332.3 413.79 L334.88 415.02 L337.58 416.27 L340.3 415.96 L343.04 415 L345.71 413.42 L348.21 411.73 L350.73 410.12 L353.25 408.46 L355.77 406.35 L358.53 404.16 L361.28 401.79 L364.05 398.8 L366.81 396.01 L369.38 392.8 L371.98 390.07 L374.62 387.31 L377.16 385.54 L379.87 384.2 L382.51 382.3 L385.19 381.28 L387.89 380.33 L390.4 380.08 L393 380.02 L395.6 380.39 L398.28 381.99 L400.99 383.41 L403.61 385.4 L406.21 387.22 L408.82 389.55 L411.42 391.55 L414.07 393.03 L416.73 393.79 L419.36 394.37 L421.97 395.29 L424.59 395.89 L427.25 396.21 L429.9 396.92 L432.52 396.89 L435.12 397.35 L437.73 397.82 L440.33 398.52 L442.97 398.77 L445.63 399.34 L448.27 400.43 L450.88 401.72 L453.49 403.31 L456.24 404.32 L458.84 405.82 L461.39 407.28 L464.02 409.36 L466.61 410.66 L467.1 411" fill="none" stroke="#ff0000" stroke-width="0.8" stroke-linejoin="round"/>
<path d="M493.4 104.7 L495.96 105.97 L498.65 107.6 L501.44 109.97 L504.12 111.47 L506.8 113.51 L509.48 114.95 L512.16 115.55 L514.84 117.82 L517.52 120.34 L520.2 123.12 L522.88 124.82 L525.56 127.87 L528.24 129.9 L530.91 132.86 L533.6 134.68 L536.32 136.12 L539.04 139.91 L541.75 141.96 L544.42 143.3 L547.1 144.67 L549.8 144.92 L552.49 145.28 L555.08 146.42 L557.59 145.92 L560.29 146.28 L562.89 146.82 L565.5 146.62 L568.17 146.8 L570.71 146.15 L573.5 145.99 L576.14 144.81 L578.96 144.09 L581.5 142.93 L584.31 142.03 L587.19 140.38 L590.02 138.43 L592.86 137.46 L595.7 135.48 L598.5 133.44 L601.3 131.53 L604.1 129.43 L606.93 128.07 L609.77 127.12 L612.6 125.84 L615.4 125.95 L618.2 124.61 L621.01 124.47 L623.84 122.94 L626.68 123.06 L629.5 122.69 L632.3 121.82 L635.1 122.62 L637.92 123.91 L640.76 123.39 L643.59 124.36 L646.4 124.14 L649.2 124.57 L652 126.27 L654.83 127.2 L657.67 127.11 L660.5 127.61 L663.3 128.93 L666.1 130.93 L668.91 131.72 L671.41 131.69 L673.92 132.78 L676.6 133.73 L679.44 135.39 L682.05 138.34 L682.6 138.3 L682.6 156.4 L682.05 155.54 L679.44 155.14 L676.6 153.24 L673.92 152.21 L671.41 150.98 L668.91 150.56 L666.1 149.59 L663.3 149.43 L660.5 147.62 L657.67 147.72 L654.83 147.64 L652 146.62 L649.2 145.67 L646.4 144.74 L643.59 144.02 L640.76 144.55 L637.92 144.37 L635.1 143.48 L632.3 142.78 L629.5 142.64 L626.68 142.99 L623.84 143.27 L621.01 143.45 L618.2 143.14 L615.4 144.56 L612.6 145.72 L609.77 147.02 L606.93 148.01 L604.1 149.16 L601.3 150.69 L598.5 150.62 L595.7 151.53 L592.86 153.97 L590.02 154.82 L587.19 156.81 L584.31 157.37 L581.5 157.97 L578.96 159.27 L576.14 159.89 L573.5 162.14 L570.71 163.48 L568.17 163.36 L565.5 164.81 L562.89 165.04 L560.29 162.9 L557.59 162.91 L555.08 164.34 L552.49 163.49 L549.8 162.81 L547.1 162.37 L544.42 160.07 L541.75 159.38 L539.04 156.39 L536.32 155.51 L533.6 152.41 L530.91 151.11 L528.24 149.07 L525.56 147.99 L522.88 145.83 L520.2 143.85 L517.52 141.94 L514.84 140.06 L512.16 137.26 L509.48 135.36 L506.8 132.9 L504.12 131.3 L501.44 130.41 L498.65 128.86 L495.96 127.27 L493.4 126.1 Z" fill="#0000ff" fill-opacity="0.18" stroke="none"/>
<path d="M493.4 104.7 L495.96 105.97 L498.65 107.6 L501.44 109.97 L504.12 111.47 L506.8 113.51 L509.48 114.95 L512.16 115.55 L514.84 117.82 L517.52 120.34 L520.2 123.12 L522.88 124.82 L525.56 127.87 L528.24 129.9 L530.91 132.86 L533.6 134.68 L536.32 136.12 L539.04 139.91 L541.75 141.96 L544.42 143.3 L547.1 144.67 L549.8 144.92 L552.49 145.28 L555.08 146.42 L557.59 145.92 L560.29 146.28 L562.89 146.82 L565.5 146.62 L568.17 146.8 L570.71 146.15 L573.5 145.99 L576.14 144.81 L578.96 144.09 L581.5 142.93 L584.31 142.03 L587.19 140.38 L590.02 138.43 L592.86 137.46 L595.7 135.48 L598.5 133.44 L601.3 131.53 L604.1 129.43 L606.93 128.07 L609.77 127.12 L612.6 125.84 L615.4 125.95 L618.2 124.61 L621.01 124.47 L623.84 122.94 L626.68 123.06 L629.5 122.69 L632.3 121.82 L635.1 122.62 L637.92 123.91 L640.76 123.39 L643.59 124.36 L646.4 124.14 L649.2 124.57 L652 126.27 L654.83 127.2 L657.67 127.11 L660.5 127.61 L663.3 128.93 L666.1 130.93 L668.91 131.72 L671.41 131.69 L673.92 132.78 L676.6 133.73 L679.44 135.39 L682.05 138.34 L682.6 138.3" fill="none" stroke="#0000ff" stroke-opacity="0.25" stroke-width="0.7"/>
<path d="M493.4 126.1 L495.96 127.27 L498.65 128.86 L501.44 130.41 L504.12 131.3 L506.8 132.9 L509.48 135.36 L512.16 137.26 L514.84 140.06 L517.52 141.94 L520.2 143.85 L522.88 145.83 L525.56 147.99 L528.24 149.07 L530.91 151.11 L533.6 152.41 L536.32 155.51 L539.04 156.39 L541.75 159.38 L544.42 160.07 L547.1 162.37 L549.8 162.81 L552.49 163.49 L555.08 164.34 L557.59 162.91 L560.29 162.9 L562.89 165.04 L565.5 164.81 L568.17 163.36 L570.71 163.48 L573.5 162.14 L576.14 159.89 L578.96 159.27 L581.5 157.97 L584.31 157.37 L587.19 156.81 L590.02 154.82 L592.86 153.97 L595.7 151.53 L598.5 150.62 L601.3 150.69 L604.1 149.16 L606.93 148.01 L609.77 147.02 L612.6 145.72 L615.4 144.56 L618.2 143.14 L621.01 143.45 L623.84 143.27 L626.68 142.99 L629.5 142.64 L632.3 142.78 L635.1 143.48 L637.92 144.37 L640.76 144.55 L643.59 144.02 L646.4 144.74 L649.2 145.67 L652 146.62 L654.83 147.64 L657.67 147.72 L660.5 147.62 L663.3 149.43 L666.1 149.59 L668.91 150.56 L671.41 150.98 L673.92 152.21 L676.6 153.24 L679.44 155.14 L682.05 155.54 L682.6 156.4" fill="none" stroke="#0000ff" stroke-opacity="0.25" stroke-width="0.7"/>
<path d="M493.4 115.1 L495.96 116.41 L498.65 118.62 L501.44 120.36 L504.12 122.24 L506.8 123.12 L509.48 124.81 L512.16 126.38 L514.84 128.31 L517.52 130.88 L520.2 132.36 L522.88 135.52 L525.56 137.95 L528.24 140.24 L530.91 142 L533.6 144.11 L536.32 145.77 L539.04 147.1 L541.75 149.49 L544.42 151.55 L547.1 154.25 L549.8 155.27 L552.49 155.91 L555.08 156.39 L557.59 156.49 L560.29 156.86 L562.89 156.9 L565.5 156.11 L568.17 156.19 L570.71 154.98 L573.5 154.31 L576.14 152.85 L578.96 151.25 L581.5 150.24 L584.31 149.58 L587.19 148.59 L590.02 147.14 L592.86 146.51 L595.7 144.89 L598.5 143.37 L601.3 141.13 L604.1 139.37 L606.93 138.52 L609.77 136.98 L612.6 136.78 L615.4 135.47 L618.2 134.14 L621.01 133.32 L623.84 132.94 L626.68 132.05 L629.5 132.15 L632.3 132.65 L635.1 132.89 L637.92 132.96 L640.76 133.75 L643.59 133.85 L646.4 134.34 L649.2 134.84 L652 135.65 L654.83 135.96 L657.67 137.37 L660.5 138.44 L663.3 138.41 L666.1 139.46 L668.91 140.56 L671.41 140.41 L673.92 141.58 L676.6 143.67 L679.44 145.45 L682.05 147.08 L682.6 147.3" fill="none" stroke="#0000ff" stroke-width="0.8" stroke-linejoin="round"/>
<path d="M493.4 110.1 L495.96 111.37 L498.65 113.42 L501.44 115.47 L504.12 117.74 L506.8 120 L509.48 122.85 L512.16 125.25 L514.84 127.06 L517.52 128.71 L520.2 130.11 L522.88 131.62 L525.56 133.53 L528.24 135.17 L530.91 136.11 L533.6 138.01 L536.32 139.29 L539.04 141.03 L541.75 142.38 L544.42 144.35 L547.1 145.17 L549.8 145.91 L552.49 146.12 L555.08 146.01 L557.59 146.4 L560.29 146.73 L562.89 146.99 L565.5 147.63 L568.17 146.41 L570.71 145.23 L573.5 144.53 L576.14 143.05 L578.96 142.4 L581.5 140.43 L584.31 138.23 L587.19 135.89 L590.02 134.47 L592.86 133.14 L595.7 132.02 L598.5 131.54 L601.3 130.05 L604.1 129.4 L606.93 127.9 L609.77 127.36 L612.6 126.36 L615.4 125.43 L618.2 124.75 L621.01 124.15 L623.84 124.03 L626.68 123.53 L629.5 123.78 L632.3 124.09 L635.1 123.83 L637.92 124.79 L640.76 125.42 L643.59 125.89 L646.4 126.76 L649.2 127.84 L652 128.94 L654.83 130.68 L657.67 131.67 L660.5 132.86 L663.3 134.42 L666.1 136.38 L668.91 137.8 L671.41 138.15 L673.92 138.68 L676.6 139.34 L679.44 140.37 L682.05 140.91 L682.6 141.3 L682.6 157.4 L682.05 157.5 L679.44 156.08 L676.6 155.33 L673.92 154.39 L671.41 153.74 L668.91 152.84 L666.1 151.69 L663.3 151.09 L660.5 150.3 L657.67 149.75 L654.83 147.96 L652 147.17 L649.2 146.19 L646.4 144.96 L643.59 144.06 L640.76 143.15 L637.92 142.11 L635.1 141.75 L632.3 141.27 L629.5 141.13 L626.68 141.75 L623.84 142.06 L621.01 142.48 L618.2 143.07 L615.4 143.55 L612.6 144.49 L609.77 144.85 L606.93 146.42 L604.1 146.98 L601.3 147.25 L598.5 147.46 L595.7 147.81 L592.86 148.15 L590.02 149.61 L587.19 150.94 L584.31 152 L581.5 152.85 L578.96 154.34 L576.14 154.91 L573.5 156.08 L570.71 157.07 L568.17 157.78 L565.5 158.73 L562.89 158.8 L560.29 158.82 L557.59 158.62 L555.08 158.82 L552.49 158.14 L549.8 157.79 L547.1 157.46 L544.42 157.11 L541.75 155.85 L539.04 155.52 L536.32 154.69 L533.6 153.53 L530.91 152.83 L528.24 151.73 L525.56 150.6 L522.88 150.1 L520.2 148.51 L517.52 147.76 L514.84 146.02 L512.16 144.73 L509.48 142.65 L506.8 140.97 L504.12 139.96 L501.44 137.61 L498.65 135.58 L495.96 133.78 L493.4 131.1 Z" fill="#ff0000" fill-opacity="0.18" stroke="none"/>
<path d="M493.4 110.1 L495.96 111.37 L498.65 113.42 L501.44 115.47 L504.12 117.74 L506.8 120 L509.48 122.85 L512.16 125.25 L514.84 127.06 L517.52 128.71 L520.2 130.11 L522.88 131.62 L525.56 133.53 L528.24 135.17 L530.91 136.11 L533.6 138.01 L536.32 139.29 L539.04 141.03 L541.75 142.38 L544.42 144.35 L547.1 145.17 L549.8 145.91 L552.49 146.12 L555.08 146.01 L557.59 146.4 L560.29 146.73 L562.89 146.99 L565.5 147.63 L568.17 146.41 L570.71 145.23 L573.5 144.53 L576.14 143.05 L578.96 142.4 L581.5 140.43 L584.31 138.23 L587.19 135.89 L590.02 134.47 L592.86 133.14 L595.7 132.02 L598.5 131.54 L601.3 130.05 L604.1 129.4 L606.93 127.9 L609.77 127.36 L612.6 126.36 L615.4 125.43 L618.2 124.75 L621.01 124.15 L623.84 124.03 L626.68 123.53 L629.5 123.78 L632.3 124.09 L635.1 123.83 L637.92 124.79 L640.76 125.42 L643.59 125.89 L646.4 126.76 L649.2 127.84 L652 128.94 L654.83 130.68 L657.67 131.67 L660.5 132.86 L663.3 134.42 L666.1 136.38 L668.91 137.8 L671.41 138.15 L673.92 138.68 L676.6 139.34 L679.44 140.37 L682.05 140.91 L682.6 141.3" fill="none" stroke="#ff0000" stroke-opacity="0.25" stroke-width="0.7"/>
<path d="M493.4 131.1 L495.96 133.78 L498.65 135.58 L501.44 137.61 L504.12 139.96 L506.8 140.97 L509.48 142.65 L512.16 144.73 L514.84 146.02 L517.52 147.76 L520.2 148.51 L522.88 150.1 L525.56 150.6 L528.24 151.73 L530.91 152.83 L533.6 153.53 L536.32 154.69 L539.04 155.52 L541.75 155.85 L544.42 157.11 L547.1 157.46 L549.8 157.79 L552.49 158.14 L555.08 158.82 L557.59 158.62 L560.29 158.82 L562.89 158.8 L565.5 158.73 L568.17 157.78 L570.71 157.07 L573.5 156.08 L576.14 154.91 L578.96 154.34 L581.5 152.85 L584.31 152 L587.19 150.94 L590.02 149.61 L592.86 148.15 L595.7 147.81 L598.5 147.46 L601.3 147.25 L604.1 146.98 L606.93 146.42 L609.77 144.85 L612.6 144.49 L615.4 143.55 L618.2 143.07 L621.01 142.48 L623.84 142.06 L626.68 141.75 L629.5 141.13 L632.3 141.27 L635.1 141.75 L637.92 142.11 L640.76 143.15 L643.59 144.06 L646.4 144.96 L649.2 146.19 L652 147.17 L654.83 147.96 L657.67 149.75 L660.5 150.3 L663.3 151.09 L666.1 151.69 L668.91 152.84 L671.41 153.74 L673.92 154.39 L676.6 155.33 L679.44 156.08 L682.05 157.5 L682.6 157.4" fill="none" stroke="#ff0000" stroke-opacity="0.25" stroke-width="0.7"/>
<path d="M493.4 120.5 L495.96 122.48 L498.65 124.38 L501.44 126.55 L504.12 128.5 L506.8 131.16 L509.48 133.2 L512.16 135.23 L514.84 136.66 L517.52 138.04 L520.2 139.47 L522.88 140.66 L525.56 142.11 L528.24 143.19 L530.91 144.59 L533.6 146.33 L536.32 147.6 L539.04 149.04 L541.75 150.19 L544.42 150.64 L547.1 150.93 L549.8 151.64 L552.49 151.66 L555.08 151.93 L557.59 152.2 L560.29 152.71 L562.89 152.81 L565.5 152.96 L568.17 151.84 L570.71 150.85 L573.5 149.6 L576.14 148.07 L578.96 146.45 L581.5 145.52 L584.31 144.49 L587.19 143.27 L590.02 142.09 L592.86 141.14 L595.7 139.93 L598.5 139.25 L601.3 138.84 L604.1 138.49 L606.93 137.13 L609.77 135.94 L612.6 134.93 L615.4 134.07 L618.2 133.49 L621.01 133.09 L623.84 132.79 L626.68 132.19 L629.5 132.09 L632.3 132.08 L635.1 132.32 L637.92 133.06 L640.76 133.61 L643.59 134.29 L646.4 135.18 L649.2 136.72 L652 137.86 L654.83 139.12 L657.67 139.97 L660.5 141.33 L663.3 142.63 L666.1 143.47 L668.91 144.72 L671.41 145.19 L673.92 146.61 L676.6 147.03 L679.44 148.22 L682.05 148.83 L682.6 149.3" fill="none" stroke="#ff0000" stroke-width="0.8" stroke-linejoin="round"/>
<path d="M492.9 244.8 L495.48 245.56 L498.09 246.98 L500.71 248.58 L503.39 250.25 L506.05 250.97 L508.71 252.32 L511.32 253.94 L513.93 256.15 L516.57 257.49 L519.23 260.44 L521.87 263.01 L524.47 265.5 L527.08 268.85 L529.68 271.43 L532.3 273.91 L534.95 276.92 L537.61 278.18 L540.23 280.21 L542.84 283.17 L545.47 284.36 L548.13 285.71 L550.78 287.07 L553.38 287.89 L555.99 289.17 L558.59 289.05 L561.21 289.48 L563.86 289.69 L566.52 289.11 L569.14 289.09 L571.75 288.5 L574.38 287.59 L577.04 287.15 L579.68 287.47 L582.19 287.25 L584.9 285.49 L587.75 285 L590.42 283.79 L593.03 282.34 L595.59 280.76 L598.14 280.35 L600.7 279.38 L603.25 278.04 L605.81 277.84 L608.36 276.71 L610.91 275.88 L613.47 275.59 L616.06 275.03 L618.69 274.6 L621.5 274.26 L624.13 273.55 L626.67 272.83 L629.47 272.53 L632.2 272.51 L634.88 272.05 L637.46 270.29 L640.09 269.89 L642.78 271.3 L645.48 271.94 L647.99 272.25 L650.7 271.76 L653.51 272.18 L656.14 273.27 L658.73 273.17 L661.28 273.46 L663.84 272.94 L666.37 273.24 L669.13 273.42 L671.76 273.06 L674.59 274.01 L677.47 274.09 L680.25 275.39 L682.6 276.3 L682.6 282.9 L680.25 281.74 L677.47 281.03 L674.59 280.1 L671.76 279.62 L669.13 279.96 L666.37 280.44 L663.84 279.97 L661.28 280.34 L658.73 279.86 L656.14 279.91 L653.51 278.58 L650.7 278.3 L647.99 278.33 L645.48 278.37 L642.78 277.55 L640.09 276.36 L637.46 277.27 L634.88 277.87 L632.2 278.13 L629.47 278.83 L626.67 278.87 L624.13 280.13 L621.5 280.67 L618.69 280.85 L616.06 281.73 L613.47 282.89 L610.91 282.87 L608.36 283.34 L605.81 284.11 L603.25 284.68 L600.7 285.83 L598.14 286.93 L595.59 287.75 L593.03 288.85 L590.42 290.25 L587.75 291.68 L584.9 292.24 L582.19 293.79 L579.68 293.51 L577.04 293.71 L574.38 294.19 L571.75 294.23 L569.14 294.71 L566.52 295.14 L563.86 295.83 L561.21 295.97 L558.59 296.48 L555.99 294.86 L553.38 294.19 L550.78 293.53 L548.13 293.13 L545.47 291.42 L542.84 289.67 L540.23 287.58 L537.61 284.69 L534.95 282.58 L532.3 280.88 L529.68 277.54 L527.08 275.28 L524.47 272.9 L521.87 269.92 L519.23 266.81 L516.57 264.84 L513.93 262.48 L511.32 260.39 L508.71 259.57 L506.05 257.95 L503.39 257.08 L500.71 255.09 L498.09 253.69 L495.48 252.23 L492.9 251.4 Z" fill="#0000ff" fill-opacity="0.18" stroke="none"/>
<path d="M492.9 244.8 L495.48 245.56 L498.09 246.98 L500.71 248.58 L503.39 250.25 L506.05 250.97 L508.71 252.32 L511.32 253.94 L513.93 256.15 L516.57 257.49 L519.23 260.44 L521.87 263.01 L524.47 265.5 L527.08 268.85 L529.68 271.43 L532.3 273.91 L534.95 276.92 L537.61 278.18 L540.23 280.21 L542.84 283.17 L545.47 284.36 L548.13 285.71 L550.78 287.07 L553.38 287.89 L555.99 289.17 L558.59 289.05 L561.21 289.48 L563.86 289.69 L566.52 289.11 L569.14 289.09 L571.75 288.5 L574.38 287.59 L577.04 287.15 L579.68 287.47 L582.19 287.25 L584.9 285.49 L587.75 285 L590.42 283.79 L593.03 282.34 L595.59 280.76 L598.14 280.35 L600.7 279.38 L603.25 278.04 L605.81 277.84 L608.36 276.71 L610.91 275.88 L613.47 275.59 L616.06 275.03 L618.69 274.6 L621.5 274.26 L624.13 273.55 L626.67 272.83 L629.47 272.53 L632.2 272.51 L634.88 272.05 L637.46 270.29 L640.09 269.89 L642.78 271.3 L645.48 271.94 L647.99 272.25 L650.7 271.76 L653.51 272.18 L656.14 273.27 L658.73 273.17 L661.28 273.46 L663.84 272.94 L666.37 273.24 L669.13 273.42 L671.76 273.06 L674.59 274.01 L677.47 274.09 L680.25 275.39 L682.6 276.3" fill="none" stroke="#0000ff" stroke-opacity="0.45" stroke-width="0.7"/>
<path d="M492.9 251.4 L495.48 252.23 L498.09 253.69 L500.71 255.09 L503.39 257.08 L506.05 257.95 L508.71 259.57 L511.32 260.39 L513.93 262.48 L516.57 264.84 L519.23 266.81 L521.87 269.92 L524.47 272.9 L527.08 275.28 L529.68 277.54 L532.3 280.88 L534.95 282.58 L537.61 284.69 L540.23 287.58 L542.84 289.67 L545.47 291.42 L548.13 293.13 L550.78 293.53 L553.38 294.19 L555.99 294.86 L558.59 296.48 L561.21 295.97 L563.86 295.83 L566.52 295.14 L569.14 294.71 L571.75 294.23 L574.38 294.19 L577.04 293.71 L579.68 293.51 L582.19 293.79 L584.9 292.24 L587.75 291.68 L590.42 290.25 L593.03 288.85 L595.59 287.75 L598.14 286.93 L600.7 285.83 L603.25 284.68 L605.81 284.11 L608.36 283.34 L610.91 282.87 L613.47 282.89 L616.06 281.73 L618.69 280.85 L621.5 280.67 L624.13 280.13 L626.67 278.87 L629.47 278.83 L632.2 278.13 L634.88 277.87 L637.46 277.27 L640.09 276.36 L642.78 277.55 L645.48 278.37 L647.99 278.33 L650.7 278.3 L653.51 278.58 L656.14 279.91 L658.73 279.86 L661.28 280.34 L663.84 279.97 L666.37 280.44 L669.13 279.96 L671.76 279.62 L674.59 280.1 L677.47 281.03 L680.25 281.74 L682.6 282.9" fill="none" stroke="#0000ff" stroke-opacity="0.45" stroke-width="0.7"/>
<path d="M492.9 248.1 L495.48 249.45 L498.09 250.82 L500.71 252.28 L503.39 253.15 L506.05 254.79 L508.71 256.39 L511.32 257.89 L513.93 258.89 L516.57 261.31 L519.23 263.59 L521.87 266.14 L524.47 269.61 L527.08 272.14 L529.68 274.73 L532.3 277.7 L534.95 279.8 L537.61 281.74 L540.23 283.86 L542.84 285.99 L545.47 287.36 L548.13 289.43 L550.78 290.76 L553.38 291.27 L555.99 292.29 L558.59 293.05 L561.21 293.14 L563.86 293.06 L566.52 292.02 L569.14 291.5 L571.75 291.86 L574.38 290.85 L577.04 290.51 L579.68 290.77 L582.19 290.25 L584.9 288.96 L587.75 287.88 L590.42 286.46 L593.03 285.27 L595.59 283.92 L598.14 283.36 L600.7 282.26 L603.25 281.58 L605.81 280.71 L608.36 279.97 L610.91 279.25 L613.47 279.4 L616.06 278.74 L618.69 278.07 L621.5 277.06 L624.13 276.17 L626.67 275.29 L629.47 275.15 L632.2 274.88 L634.88 274.84 L637.46 273.53 L640.09 273.27 L642.78 274.6 L645.48 275.15 L647.99 275.34 L650.7 275.37 L653.51 275.85 L656.14 276.38 L658.73 276.19 L661.28 276.16 L663.84 276.66 L666.37 276.54 L669.13 276.53 L671.76 275.84 L674.59 277.11 L677.47 277.28 L680.25 278.77 L682.6 279.6" fill="none" stroke="#0000ff" stroke-width="0.8" stroke-linejoin="round"/>
<path d="M492.9 239 L495.48 241.07 L498.09 243.21 L500.71 245.56 L503.39 248.31 L506.05 249.7 L508.71 251.34 L511.32 253.14 L513.93 255.05 L516.57 257.24 L519.23 259.06 L521.87 261.48 L524.47 264.08 L527.08 266.79 L529.68 268.85 L532.3 270.85 L534.95 272.92 L537.61 275.26 L540.23 276.64 L542.84 278.59 L545.47 279.87 L548.13 280.47 L550.78 281.7 L553.38 281.52 L555.99 282.4 L558.59 282.79 L561.21 282.59 L563.86 282.82 L566.52 282.43 L569.14 281.44 L571.75 281.12 L574.38 280.02 L577.04 279.89 L579.68 279.12 L582.19 278.95 L584.9 277.78 L587.75 277.18 L590.42 276.56 L593.03 275.76 L595.59 274.68 L598.14 274.42 L600.7 273.61 L603.25 272.43 L605.81 271.55 L608.36 271.25 L610.91 270.48 L613.47 270.09 L616.03 269.34 L618.58 268.62 L621.14 267.66 L623.69 266.97 L626.25 266.38 L628.8 265.86 L631.35 265.09 L633.91 264.89 L636.47 264.51 L639.02 264.8 L641.58 264.85 L644.13 264.84 L646.68 264.98 L649.24 265.23 L651.8 265.48 L654.35 266.3 L656.91 266.55 L659.46 266.77 L662.01 266.69 L664.57 267.43 L667.4 267.31 L670.21 268.02 L673.05 268.05 L675.72 268.32 L678.63 268.46 L681.2 268.53 L682.6 268.7 L682.6 275.3 L681.2 275.51 L678.63 274.77 L675.72 274.58 L673.05 274.4 L670.21 274.01 L667.4 273.98 L664.57 274.12 L662.01 273.81 L659.46 273.32 L656.91 272.92 L654.35 272.74 L651.8 272.76 L649.24 272.05 L646.68 271.6 L644.13 271.73 L641.58 271.1 L639.02 271.2 L636.47 271.19 L633.91 271.63 L631.35 271.57 L628.8 272.09 L626.25 272.91 L623.69 273.73 L621.14 274.7 L618.58 275.13 L616.03 275.66 L613.47 276.38 L610.91 276.85 L608.36 277.58 L605.81 278.21 L603.25 278.84 L600.7 280.11 L598.14 280.8 L595.59 281.77 L593.03 282.37 L590.42 283.32 L587.75 283.94 L584.9 284.61 L582.19 285.54 L579.68 285.61 L577.04 286.35 L574.38 287.11 L571.75 287.67 L569.14 288.56 L566.52 288.57 L563.86 288.97 L561.21 289.28 L558.59 289.47 L555.99 288.49 L553.38 288.34 L550.78 288.24 L548.13 287.61 L545.47 286.03 L542.84 285.31 L540.23 283.54 L537.61 281.49 L534.95 279.8 L532.3 277.81 L529.68 275.27 L527.08 272.8 L524.47 270.57 L521.87 267.68 L519.23 265.26 L516.57 263.62 L513.93 261.43 L511.32 259.98 L508.71 257.93 L506.05 256.41 L503.39 254.41 L500.71 252.24 L498.09 249.66 L495.48 247.85 L492.9 245.6 Z" fill="#ff0000" fill-opacity="0.18" stroke="none"/>
<path d="M492.9 239 L495.48 241.07 L498.09 243.21 L500.71 245.56 L503.39 248.31 L506.05 249.7 L508.71 251.34 L511.32 253.14 L513.93 255.05 L516.57 257.24 L519.23 259.06 L521.87 261.48 L524.47 264.08 L527.08 266.79 L529.68 268.85 L532.3 270.85 L534.95 272.92 L537.61 275.26 L540.23 276.64 L542.84 278.59 L545.47 279.87 L548.13 280.47 L550.78 281.7 L553.38 281.52 L555.99 282.4 L558.59 282.79 L561.21 282.59 L563.86 282.82 L566.52 282.43 L569.14 281.44 L571.75 281.12 L574.38 280.02 L577.04 279.89 L579.68 279.12 L582.19 278.95 L584.9 277.78 L587.75 277.18 L590.42 276.56 L593.03 275.76 L595.59 274.68 L598.14 274.42 L600.7 273.61 L603.25 272.43 L605.81 271.55 L608.36 271.25 L610.91 270.48 L613.47 270.09 L616.03 269.34 L618.58 268.62 L621.14 267.66 L623.69 266.97 L626.25 266.38 L628.8 265.86 L631.35 265.09 L633.91 264.89 L636.47 264.51 L639.02 264.8 L641.58 264.85 L644.13 264.84 L646.68 264.98 L649.24 265.23 L651.8 265.48 L654.35 266.3 L656.91 266.55 L659.46 266.77 L662.01 266.69 L664.57 267.43 L667.4 267.31 L670.21 268.02 L673.05 268.05 L675.72 268.32 L678.63 268.46 L681.2 268.53 L682.6 268.7" fill="none" stroke="#ff0000" stroke-opacity="0.45" stroke-width="0.7"/>
<path d="M492.9 245.6 L495.48 247.85 L498.09 249.66 L500.71 252.24 L503.39 254.41 L506.05 256.41 L508.71 257.93 L511.32 259.98 L513.93 261.43 L516.57 263.62 L519.23 265.26 L521.87 267.68 L524.47 270.57 L527.08 272.8 L529.68 275.27 L532.3 277.81 L534.95 279.8 L537.61 281.49 L540.23 283.54 L542.84 285.31 L545.47 286.03 L548.13 287.61 L550.78 288.24 L553.38 288.34 L555.99 288.49 L558.59 289.47 L561.21 289.28 L563.86 288.97 L566.52 288.57 L569.14 288.56 L571.75 287.67 L574.38 287.11 L577.04 286.35 L579.68 285.61 L582.19 285.54 L584.9 284.61 L587.75 283.94 L590.42 283.32 L593.03 282.37 L595.59 281.77 L598.14 280.8 L600.7 280.11 L603.25 278.84 L605.81 278.21 L608.36 277.58 L610.91 276.85 L613.47 276.38 L616.03 275.66 L618.58 275.13 L621.14 274.7 L623.69 273.73 L626.25 272.91 L628.8 272.09 L631.35 271.57 L633.91 271.63 L636.47 271.19 L639.02 271.2 L641.58 271.1 L644.13 271.73 L646.68 271.6 L649.24 272.05 L651.8 272.76 L654.35 272.74 L656.91 272.92 L659.46 273.32 L662.01 273.81 L664.57 274.12 L667.4 273.98 L670.21 274.01 L673.05 274.4 L675.72 274.58 L678.63 274.77 L681.2 275.51 L682.6 275.3" fill="none" stroke="#ff0000" stroke-opacity="0.45" stroke-width="0.7"/>
<path d="M492.9 242.3 L495.48 244.18 L498.09 246.82 L500.71 248.89 L503.39 251.29 L506.05 253.05 L508.71 254.68 L511.32 256.37 L513.93 258.43 L516.57 260.09 L519.23 262.26 L521.87 264.51 L524.47 267.48 L527.08 269.87 L529.68 272.34 L532.3 274.36 L534.95 276.28 L537.61 278.61 L540.23 280.37 L542.84 281.71 L545.47 282.84 L548.13 284.09 L550.78 284.79 L553.38 285.32 L555.99 285.5 L558.59 285.85 L561.21 286.14 L563.86 285.89 L566.52 285.29 L569.14 284.75 L571.75 284.56 L574.38 283.8 L577.04 282.77 L579.68 282.52 L582.19 281.92 L584.9 281.16 L587.75 280.82 L590.42 279.83 L593.03 279.24 L595.59 278.32 L598.14 277.2 L600.7 276.74 L603.25 276.04 L605.81 275.34 L608.36 274.33 L610.91 273.87 L613.47 273.4 L616.03 272.45 L618.58 272.2 L621.14 271.47 L623.69 270.26 L626.25 269.76 L628.8 268.92 L631.35 268.25 L633.91 268.07 L636.47 268.06 L639.02 267.86 L641.58 267.8 L644.13 268.26 L646.68 268.71 L649.24 269.11 L651.8 269.24 L654.35 269.06 L656.91 269.86 L659.46 269.95 L662.01 270.02 L664.57 270.4 L667.4 270.63 L670.21 271.14 L673.05 271.03 L675.72 271.63 L678.63 271.44 L681.2 271.91 L682.6 272" fill="none" stroke="#ff0000" stroke-width="0.8" stroke-linejoin="round"/>
<path d="M493 365.2 L495.66 366.23 L498.42 367.88 L501.1 368.83 L503.9 370.82 L506.7 371.48 L509.5 373.54 L512.34 376.28 L515.18 378.35 L518 381.5 L520.8 383.65 L523.6 385.88 L526.41 388.61 L529.25 391.44 L532.09 394.08 L534.9 397.44 L537.7 399.34 L540.5 402.31 L543.32 404.19 L546.16 405.06 L549 406.91 L551.8 408.65 L554.6 410.37 L557.4 411.05 L559.95 412.81 L562.55 413.86 L565.19 415.65 L567.79 417.38 L570.31 417.83 L573.11 416.94 L575.75 416.65 L578.44 413.65 L581.01 412.13 L583.77 410.2 L586.34 409.47 L589.21 408.59 L592.05 407.96 L594.89 407.6 L597.7 406.91 L600.5 405.79 L603.3 404.35 L606.12 404.08 L608.96 402.2 L611.8 400.6 L614.6 400.33 L617.4 399.86 L620.2 399.48 L623.03 400.59 L625.87 400.23 L628.7 401.46 L631.5 401.02 L634.3 400.51 L637.11 400.99 L639.94 401.89 L642.78 402.49 L645.6 404.02 L648.4 404.65 L651.2 405.68 L654.02 406.01 L656.86 406.29 L659.69 406.82 L662.5 407.17 L665.3 407.33 L668.1 407.76 L670.99 408.39 L673.51 409.34 L676.24 410.17 L678.74 410.72 L681.31 411.42 L682.6 411.4 L682.6 417.4 L681.31 417.48 L678.74 416.63 L676.24 416.09 L673.51 415.2 L670.99 414.09 L668.1 414.05 L665.3 413.67 L662.5 412.66 L659.69 412.63 L656.86 412.36 L654.02 412.15 L651.2 410.78 L648.4 410.79 L645.6 410 L642.78 408.96 L639.94 407.86 L637.11 407.2 L634.3 406.65 L631.5 407.08 L628.7 406.62 L625.87 406.31 L623.03 405.68 L620.2 405.45 L617.4 405.91 L614.6 406.43 L611.8 407.29 L608.96 407.7 L606.12 409.05 L603.3 410.62 L600.5 411.86 L597.7 412.91 L594.89 413.46 L592.05 413.27 L589.21 413.62 L586.34 414.69 L583.77 416.26 L581.01 417.79 L578.44 419.33 L575.75 422.41 L573.11 423.68 L570.31 423.73 L567.79 423 L565.19 421.83 L562.55 420.43 L559.95 419.12 L557.4 417.79 L554.6 415.94 L551.8 414.97 L549 412.93 L546.16 411.28 L543.32 409.46 L540.5 407.32 L537.7 404.92 L534.9 402.78 L532.09 399.73 L529.25 397.49 L526.41 394.3 L523.6 391.49 L520.8 389.3 L518 387.53 L515.18 384.09 L512.34 382.27 L509.5 379.38 L506.7 378.25 L503.9 376.46 L501.1 375.44 L498.42 373.39 L495.66 373.03 L493 371.2 Z" fill="#0000ff" fill-opacity="0.18" stroke="none"/>
<path d="M493 365.2 L495.66 366.23 L498.42 367.88 L501.1 368.83 L503.9 370.82 L506.7 371.48 L509.5 373.54 L512.34 376.28 L515.18 378.35 L518 381.5 L520.8 383.65 L523.6 385.88 L526.41 388.61 L529.25 391.44 L532.09 394.08 L534.9 397.44 L537.7 399.34 L540.5 402.31 L543.32 404.19 L546.16 405.06 L549 406.91 L551.8 408.65 L554.6 410.37 L557.4 411.05 L559.95 412.81 L562.55 413.86 L565.19 415.65 L567.79 417.38 L570.31 417.83 L573.11 416.94 L575.75 416.65 L578.44 413.65 L581.01 412.13 L583.77 410.2 L586.34 409.47 L589.21 408.59 L592.05 407.96 L594.89 407.6 L597.7 406.91 L600.5 405.79 L603.3 404.35 L606.12 404.08 L608.96 402.2 L611.8 400.6 L614.6 400.33 L617.4 399.86 L620.2 399.48 L623.03 400.59 L625.87 400.23 L628.7 401.46 L631.5 401.02 L634.3 400.51 L637.11 400.99 L639.94 401.89 L642.78 402.49 L645.6 404.02 L648.4 404.65 L651.2 405.68 L654.02 406.01 L656.86 406.29 L659.69 406.82 L662.5 407.17 L665.3 407.33 L668.1 407.76 L670.99 408.39 L673.51 409.34 L676.24 410.17 L678.74 410.72 L681.31 411.42 L682.6 411.4" fill="none" stroke="#0000ff" stroke-opacity="0.45" stroke-width="0.7"/>
<path d="M493 371.2 L495.66 373.03 L498.42 373.39 L501.1 375.44 L503.9 376.46 L506.7 378.25 L509.5 379.38 L512.34 382.27 L515.18 384.09 L518 387.53 L520.8 389.3 L523.6 391.49 L526.41 394.3 L529.25 397.49 L532.09 399.73 L534.9 402.78 L537.7 404.92 L540.5 407.32 L543.32 409.46 L546.16 411.28 L549 412.93 L551.8 414.97 L554.6 415.94 L557.4 417.79 L559.95 419.12 L562.55 420.43 L565.19 421.83 L567.79 423 L570.31 423.73 L573.11 423.68 L575.75 422.41 L578.44 419.33 L581.01 417.79 L583.77 416.26 L586.34 414.69 L589.21 413.62 L592.05 413.27 L594.89 413.46 L597.7 412.91 L600.5 411.86 L603.3 410.62 L606.12 409.05 L608.96 407.7 L611.8 407.29 L614.6 406.43 L617.4 405.91 L620.2 405.45 L623.03 405.68 L625.87 406.31 L628.7 406.62 L631.5 407.08 L634.3 406.65 L637.11 407.2 L639.94 407.86 L642.78 408.96 L645.6 410 L648.4 410.79 L651.2 410.78 L654.02 412.15 L656.86 412.36 L659.69 412.63 L662.5 412.66 L665.3 413.67 L668.1 414.05 L670.99 414.09 L673.51 415.2 L676.24 416.09 L678.74 416.63 L681.31 417.48 L682.6 417.4" fill="none" stroke="#0000ff" stroke-opacity="0.45" stroke-width="0.7"/>
<path d="M493 368.2 L495.66 369.62 L498.42 371.23 L501.1 372.16 L503.9 373.67 L506.7 375.17 L509.5 376.5 L512.34 379.03 L515.18 381.66 L518 384.32 L520.8 385.98 L523.6 388.53 L526.41 391.91 L529.25 394.57 L532.09 397.02 L534.9 400.12 L537.7 402.15 L540.5 404.66 L543.32 406.76 L546.16 408.32 L549 409.85 L551.8 411.68 L554.6 413.16 L557.4 414.24 L559.95 415.83 L562.55 417.44 L565.19 417.94 L567.79 419.72 L570.31 420.17 L573.11 420.43 L575.75 419.29 L578.44 416.67 L581.01 414.54 L583.77 413.48 L586.34 412.27 L589.21 411.01 L592.05 410.9 L594.89 410.01 L597.7 409.43 L600.5 409.1 L603.3 407.45 L606.12 406.23 L608.96 404.82 L611.8 404.28 L614.6 403.69 L617.4 402.55 L620.2 402.78 L623.03 403 L625.87 403.5 L628.7 403.79 L631.5 403.87 L634.3 403.54 L637.11 404.52 L639.94 404.67 L642.78 405.94 L645.6 406.86 L648.4 407.63 L651.2 408.13 L654.02 408.68 L656.86 409.37 L659.69 408.99 L662.5 409.44 L665.3 410 L668.1 410.93 L670.99 411.3 L673.51 411.9 L676.24 412.33 L678.74 413.02 L681.31 414.19 L682.6 414.4" fill="none" stroke="#0000ff" stroke-width="0.8" stroke-linejoin="round"/>
<path d="M493 362.2 L495.66 363.56 L498.42 364.99 L501.1 366.42 L503.9 367.04 L506.7 367.91 L509.5 369.6 L512.34 371.6 L515.18 374.11 L518 376.97 L520.8 380.15 L523.6 383.34 L526.41 386.56 L529.25 389.21 L532.09 391.4 L534.9 393.86 L537.7 396.29 L540.5 398.77 L543.32 400.37 L546.16 402.14 L549 403.07 L551.8 404.4 L554.6 406.19 L557.4 406.89 L560.23 408.41 L563.07 409.05 L565.9 409.62 L568.78 409.48 L571.61 408.71 L574.2 408.28 L576.75 406.48 L579.3 404.79 L581.89 402.96 L584.72 401.14 L587.6 399.56 L590.43 397.41 L593.27 395.73 L596.1 394.55 L598.9 393.84 L601.7 393.05 L604.5 392.59 L607.34 392.72 L610.18 392.6 L613 392.66 L615.8 392.76 L618.6 392.51 L621.41 391.87 L624.25 391.95 L627.09 391.7 L629.9 391.56 L632.7 391.27 L635.5 391.54 L638.32 391.78 L641.16 392.97 L644 393.71 L646.8 394.29 L649.6 394.65 L652.4 395.63 L655.23 395.87 L658.07 396.47 L660.9 397.44 L663.7 398.78 L666.5 399.31 L669.32 400.95 L671.83 402.21 L674.72 403.59 L677.31 404.83 L680.11 406.91 L682.6 409 L682.6 415 L680.11 412.88 L677.31 410.59 L674.72 409.45 L671.83 407.79 L669.32 406.78 L666.5 405.36 L663.7 404.61 L660.9 403.25 L658.07 402.79 L655.23 401.61 L652.4 401.01 L649.6 400.73 L646.8 400.43 L644 399.51 L641.16 398.81 L638.32 397.96 L635.5 397.77 L632.7 397.46 L629.9 397.52 L627.09 398.04 L624.25 398.01 L621.41 398.11 L618.6 398.68 L615.8 399.02 L613 399.16 L610.18 398.81 L607.34 398.54 L604.5 398.69 L601.7 398.75 L598.9 399.54 L596.1 400.35 L593.27 401.98 L590.43 403.53 L587.6 405.49 L584.72 407.59 L581.89 409.17 L579.3 410.7 L576.75 412.51 L574.2 414.45 L571.61 414.91 L568.78 415.28 L565.9 415.29 L563.07 415.28 L560.23 414.15 L557.4 413.05 L554.6 411.88 L551.8 410.24 L549 409.01 L546.16 407.73 L543.32 406.69 L540.5 404.7 L537.7 402.61 L534.9 399.78 L532.09 397.24 L529.25 394.65 L526.41 392.23 L523.6 389.93 L520.8 386.6 L518 382.79 L515.18 380.21 L512.34 377.51 L509.5 375.74 L506.7 374.01 L503.9 372.98 L501.1 372.54 L498.42 370.71 L495.66 369.87 L493 368.2 Z" fill="#ff0000" fill-opacity="0.18" stroke="none"/>
<path d="M493 362.2 L495.66 363.56 L498.42 364.99 L501.1 366.42 L503.9 367.04 L506.7 367.91 L509.5 369.6 L512.34 371.6 L515.18 374.11 L518 376.97 L520.8 380.15 L523.6 383.34 L526.41 386.56 L529.25 389.21 L532.09 391.4 L534.9 393.86 L537.7 396.29 L540.5 398.77 L543.32 400.37 L546.16 402.14 L549 403.07 L551.8 404.4 L554.6 406.19 L557.4 406.89 L560.23 408.41 L563.07 409.05 L565.9 409.62 L568.78 409.48 L571.61 408.71 L574.2 408.28 L576.75 406.48 L579.3 404.79 L581.89 402.96 L584.72 401.14 L587.6 399.56 L590.43 397.41 L593.27 395.73 L596.1 394.55 L598.9 393.84 L601.7 393.05 L604.5 392.59 L607.34 392.72 L610.18 392.6 L613 392.66 L615.8 392.76 L618.6 392.51 L621.41 391.87 L624.25 391.95 L627.09 391.7 L629.9 391.56 L632.7 391.27 L635.5 391.54 L638.32 391.78 L641.16 392.97 L644 393.71 L646.8 394.29 L649.6 394.65 L652.4 395.63 L655.23 395.87 L658.07 396.47 L660.9 397.44 L663.7 398.78 L666.5 399.31 L669.32 400.95 L671.83 402.21 L674.72 403.59 L677.31 404.83 L680.11 406.91 L682.6 409" fill="none" stroke="#ff0000" stroke-opacity="0.45" stroke-width="0.7"/>
<path d="M493 368.2 L495.66 369.87 L498.42 370.71 L501.1 372.54 L503.9 372.98 L506.7 374.01 L509.5 375.74 L512.34 377.51 L515.18 380.21 L518 382.79 L520.8 386.6 L523.6 389.93 L526.41 392.23 L529.25 394.65 L532.09 397.24 L534.9 399.78 L537.7 402.61 L540.5 404.7 L543.32 406.69 L546.16 407.73 L549 409.01 L551.8 410.24 L554.6 411.88 L557.4 413.05 L560.23 414.15 L563.07 415.28 L565.9 415.29 L568.78 415.28 L571.61 414.91 L574.2 414.45 L576.75 412.51 L579.3 410.7 L581.89 409.17 L584.72 407.59 L587.6 405.49 L590.43 403.53 L593.27 401.98 L596.1 400.35 L598.9 399.54 L601.7 398.75 L604.5 398.69 L607.34 398.54 L610.18 398.81 L613 399.16 L615.8 399.02 L618.6 398.68 L621.41 398.11 L624.25 398.01 L627.09 398.04 L629.9 397.52 L632.7 397.46 L635.5 397.77 L638.32 397.96 L641.16 398.81 L644 399.51 L646.8 400.43 L649.6 400.73 L652.4 401.01 L655.23 401.61 L658.07 402.79 L660.9 403.25 L663.7 404.61 L666.5 405.36 L669.32 406.78 L671.83 407.79 L674.72 409.45 L677.31 410.59 L680.11 412.88 L682.6 415" fill="none" stroke="#ff0000" stroke-opacity="0.45" stroke-width="0.7"/>
<path d="M493 365.2 L495.66 366.53 L498.42 367.82 L501.1 369.45 L503.9 370.16 L506.7 370.79 L509.5 372.61 L512.34 374.36 L515.18 377.03 L518 379.78 L520.8 383.35 L523.6 386.79 L526.41 389.53 L529.25 391.76 L532.09 394.47 L534.9 396.99 L537.7 399.31 L540.5 401.68 L543.32 403.73 L546.16 405.26 L549 406.46 L551.8 407.77 L554.6 408.97 L557.4 409.84 L560.23 411.13 L563.07 411.92 L565.9 412.51 L568.78 412.38 L571.61 411.76 L574.2 411.36 L576.75 409.37 L579.3 407.76 L581.89 406.12 L584.72 404.74 L587.6 402.42 L590.43 400.81 L593.27 399.08 L596.1 397.37 L598.9 396.74 L601.7 396.04 L604.5 395.83 L607.34 395.75 L610.18 395.83 L613 395.77 L615.8 395.42 L618.6 395.72 L621.41 395.34 L624.25 395.07 L627.09 394.78 L629.9 394.45 L632.7 394.37 L635.5 394.9 L638.32 395.26 L641.16 395.81 L644 396.75 L646.8 397.47 L649.6 397.44 L652.4 398.22 L655.23 398.9 L658.07 399.59 L660.9 400.55 L663.7 401.36 L666.5 402.33 L669.32 403.98 L671.83 404.85 L674.72 406.52 L677.31 407.63 L680.11 409.83 L682.6 412" fill="none" stroke="#ff0000" stroke-width="0.8" stroke-linejoin="round"/>
<path d="M40 108.4H217.6" stroke="#0000ff" stroke-width="1.75"/>
<path d="M58.6 228H209.9" stroke="#0000ff" stroke-width="1.75"/>
<path d="M223.3 228H230.5" stroke="#ff0000" stroke-width="1.75"/>
<path d="M62.2 353H207.8" stroke="#0000ff" stroke-width="1.75"/>
<path d="M223.3 353H230.5" stroke="#ff0000" stroke-width="1.75"/>
<path d="M403.8 228H467.3" stroke="#ff0000" stroke-width="1.75"/>
<path d="M379.1 353H463.7" stroke="#ff0000" stroke-width="1.75"/>
<path d="M549 228.1H596.5" stroke="#ff0000" stroke-width="1.75"/>
<path d="M675.6 228.1H682.6" stroke="#ff0000" stroke-width="1.75"/>
<path d="M566.5 353.1H667.9" stroke="#ff0000" stroke-width="1.75"/>
<path d="M39.5 97.2 V174.2 H231.3" fill="none" stroke="#2b2b2b" stroke-width="0.9"/>
<path d="M58.68 174.2 v-2.6M77.86 174.2 v-2.6M97.04 174.2 v-2.6M116.22 174.2 v-2.6M135.4 174.2 v-2.6M154.58 174.2 v-2.6M173.76 174.2 v-2.6M192.94 174.2 v-2.6M212.12 174.2 v-2.6M231.3 174.2 v-2.6M39.5 161.37 h2.6M39.5 148.54 h2.6M39.5 135.71 h2.6M39.5 122.88 h2.6M39.5 110.05 h2.6M39.5 97.22 h2.6" fill="none" stroke="#2b2b2b" stroke-width="0.9"/>
<text x="36.3" y="99" font-size="9.6" text-anchor="end" fill="#262626">0.12</text>
<text x="36.3" y="132.6" font-size="9.6" text-anchor="end" fill="#262626">0.08</text>
<text x="36.3" y="178" font-size="9.6" text-anchor="end" fill="#262626">0.03</text>
<text x="40.5" y="184.2" font-size="9.6" text-anchor="middle" fill="#262626">0</text>
<text x="135.6" y="184.2" font-size="9.6" text-anchor="middle" fill="#262626">0.5</text>
<text x="231.2" y="184.2" font-size="9.6" text-anchor="middle" fill="#262626">1</text>
<path d="M39.5 222.9 V299.3 H231.3" fill="none" stroke="#2b2b2b" stroke-width="0.9"/>
<path d="M58.68 299.3 v-2.6M77.86 299.3 v-2.6M97.04 299.3 v-2.6M116.22 299.3 v-2.6M135.4 299.3 v-2.6M154.58 299.3 v-2.6M173.76 299.3 v-2.6M192.94 299.3 v-2.6M212.12 299.3 v-2.6M231.3 299.3 v-2.6M39.5 274.5 h2.6M39.5 249.7 h2.6M39.5 224.9 h2.6" fill="none" stroke="#2b2b2b" stroke-width="0.9"/>
<text x="36.3" y="222" font-size="9.6" text-anchor="end" fill="#262626">0.2</text>
<text x="36.3" y="299.9" font-size="9.6" text-anchor="end" fill="#262626">0.06</text>
<text x="40.5" y="309.3" font-size="9.6" text-anchor="middle" fill="#262626">0</text>
<text x="135.6" y="309.3" font-size="9.6" text-anchor="middle" fill="#262626">0.5</text>
<text x="231.2" y="309.3" font-size="9.6" text-anchor="middle" fill="#262626">1</text>
<path d="M39.5 346.6 V423.4 H231.3" fill="none" stroke="#2b2b2b" stroke-width="0.9"/>
<path d="M58.68 423.4 v-2.6M77.86 423.4 v-2.6M97.04 423.4 v-2.6M116.22 423.4 v-2.6M135.4 423.4 v-2.6M154.58 423.4 v-2.6M173.76 423.4 v-2.6M192.94 423.4 v-2.6M212.12 423.4 v-2.6M231.3 423.4 v-2.6M39.5 398.65 h2.6M39.5 373.9 h2.6M39.5 349.15 h2.6" fill="none" stroke="#2b2b2b" stroke-width="0.9"/>
<text x="36.3" y="346.4" font-size="9.6" text-anchor="end" fill="#262626">0.24</text>
<text x="36.3" y="423.8" font-size="9.6" text-anchor="end" fill="#262626">0.12</text>
<text x="40.5" y="433.4" font-size="9.6" text-anchor="middle" fill="#262626">0</text>
<text x="135.6" y="433.4" font-size="9.6" text-anchor="middle" fill="#262626">0.5</text>
<text x="231.2" y="433.4" font-size="9.6" text-anchor="middle" fill="#262626">1</text>
<path d="M275.5 97.2 V174.2 H467.3" fill="none" stroke="#2b2b2b" stroke-width="0.9"/>
<path d="M294.68 174.2 v-2.6M313.86 174.2 v-2.6M333.04 174.2 v-2.6M352.22 174.2 v-2.6M371.4 174.2 v-2.6M390.58 174.2 v-2.6M409.76 174.2 v-2.6M428.94 174.2 v-2.6M448.12 174.2 v-2.6M467.3 174.2 v-2.6M275.5 158.9 h2.6M275.5 143.6 h2.6M275.5 128.3 h2.6M275.5 113 h2.6M275.5 97.7 h2.6" fill="none" stroke="#2b2b2b" stroke-width="0.9"/>
<text x="272.3" y="98.8" font-size="9.6" text-anchor="end" fill="#262626">0.11</text>
<text x="272.3" y="178" font-size="9.6" text-anchor="end" fill="#262626">0.06</text>
<text x="272.8" y="184.2" font-size="9.6" text-anchor="middle" fill="#262626">0</text>
<text x="368.9" y="184.2" font-size="9.6" text-anchor="middle" fill="#262626">0.5</text>
<text x="464.5" y="184.2" font-size="9.6" text-anchor="middle" fill="#262626">1</text>
<text x="445.3" y="184.2" font-size="9.6" text-anchor="middle" fill="#262626">0.9</text>
<path d="M275.5 222.9 V299.3 H467.3" fill="none" stroke="#2b2b2b" stroke-width="0.9"/>
<path d="M294.68 299.3 v-2.6M313.86 299.3 v-2.6M333.04 299.3 v-2.6M352.22 299.3 v-2.6M371.4 299.3 v-2.6M390.58 299.3 v-2.6M409.76 299.3 v-2.6M428.94 299.3 v-2.6M448.12 299.3 v-2.6M467.3 299.3 v-2.6M275.5 286.57 h2.6M275.5 273.84 h2.6M275.5 261.11 h2.6M275.5 248.38 h2.6M275.5 235.65 h2.6M275.5 222.92 h2.6" fill="none" stroke="#2b2b2b" stroke-width="0.9"/>
<text x="272.3" y="222.4" font-size="9.6" text-anchor="end" fill="#262626">0.18</text>
<text x="272.3" y="300.4" font-size="9.6" text-anchor="end" fill="#262626">0</text>
<text x="272.8" y="309.3" font-size="9.6" text-anchor="middle" fill="#262626">0</text>
<text x="368.9" y="309.3" font-size="9.6" text-anchor="middle" fill="#262626">0.5</text>
<text x="464.5" y="309.3" font-size="9.6" text-anchor="middle" fill="#262626">1</text>
<path d="M275.5 346.6 V423.4 H467.3" fill="none" stroke="#2b2b2b" stroke-width="0.9"/>
<path d="M294.68 423.4 v-2.6M313.86 423.4 v-2.6M333.04 423.4 v-2.6M352.22 423.4 v-2.6M371.4 423.4 v-2.6M390.58 423.4 v-2.6M409.76 423.4 v-2.6M428.94 423.4 v-2.6M448.12 423.4 v-2.6M467.3 423.4 v-2.6M275.5 404.2 h2.6M275.5 385 h2.6M275.5 365.8 h2.6M275.5 346.6 h2.6" fill="none" stroke="#2b2b2b" stroke-width="0.9"/>
<text x="272.3" y="346.3" font-size="9.6" text-anchor="end" fill="#262626">0.21</text>
<text x="272.3" y="423.9" font-size="9.6" text-anchor="end" fill="#262626">0.14</text>
<text x="272.8" y="433.4" font-size="9.6" text-anchor="middle" fill="#262626">0</text>
<text x="368.9" y="433.4" font-size="9.6" text-anchor="middle" fill="#262626">0.5</text>
<text x="464.5" y="433.4" font-size="9.6" text-anchor="middle" fill="#262626">1</text>
<path d="M491.7 97.2 V174.2 H683.5" fill="none" stroke="#2b2b2b" stroke-width="0.9"/>
<path d="M510.88 174.2 v-2.6M530.06 174.2 v-2.6M549.24 174.2 v-2.6M568.42 174.2 v-2.6M587.6 174.2 v-2.6M606.78 174.2 v-2.6M625.96 174.2 v-2.6M645.14 174.2 v-2.6M664.32 174.2 v-2.6M683.5 174.2 v-2.6M491.7 158.9 h2.6M491.7 143.6 h2.6M491.7 128.3 h2.6M491.7 113 h2.6M491.7 97.7 h2.6" fill="none" stroke="#2b2b2b" stroke-width="0.9"/>
<text x="488.5" y="99" font-size="9.6" text-anchor="end" fill="#262626">0.08</text>
<text x="488.5" y="175.9" font-size="9.6" text-anchor="end" fill="#262626">0.05</text>
<text x="492" y="184.2" font-size="9.6" text-anchor="middle" fill="#262626">0</text>
<text x="587.7" y="184.2" font-size="9.6" text-anchor="middle" fill="#262626">0.5</text>
<text x="684" y="184.2" font-size="9.6" text-anchor="middle" fill="#262626">1</text>
<path d="M491.7 222.9 V299.3 H683.5" fill="none" stroke="#2b2b2b" stroke-width="0.9"/>
<path d="M510.88 299.3 v-2.6M530.06 299.3 v-2.6M549.24 299.3 v-2.6M568.42 299.3 v-2.6M587.6 299.3 v-2.6M606.78 299.3 v-2.6M625.96 299.3 v-2.6M645.14 299.3 v-2.6M664.32 299.3 v-2.6M683.5 299.3 v-2.6M491.7 287.15 h2.6M491.7 275 h2.6M491.7 262.85 h2.6M491.7 250.7 h2.6M491.7 238.55 h2.6M491.7 226.4 h2.6" fill="none" stroke="#2b2b2b" stroke-width="0.9"/>
<text x="488.5" y="222.2" font-size="9.6" text-anchor="end" fill="#262626">0.13</text>
<text x="488.5" y="299.6" font-size="9.6" text-anchor="end" fill="#262626">0.08</text>
<text x="492" y="309.3" font-size="9.6" text-anchor="middle" fill="#262626">0</text>
<text x="587.7" y="309.3" font-size="9.6" text-anchor="middle" fill="#262626">0.5</text>
<text x="684" y="309.3" font-size="9.6" text-anchor="middle" fill="#262626">1</text>
<text x="470.8" y="299.6" font-size="9.6" text-anchor="start" fill="#262626">1</text>
<path d="M491.7 346.6 V423.4 H683.5" fill="none" stroke="#2b2b2b" stroke-width="0.9"/>
<path d="M510.88 423.4 v-2.6M530.06 423.4 v-2.6M549.24 423.4 v-2.6M568.42 423.4 v-2.6M587.6 423.4 v-2.6M606.78 423.4 v-2.6M625.96 423.4 v-2.6M645.14 423.4 v-2.6M664.32 423.4 v-2.6M683.5 423.4 v-2.6M491.7 410.15 h2.6M491.7 397.5 h2.6M491.7 384.85 h2.6M491.7 372.2 h2.6M491.7 359.55 h2.6M491.7 346.9 h2.6" fill="none" stroke="#2b2b2b" stroke-width="0.9"/>
<text x="488.5" y="346.4" font-size="9.6" text-anchor="end" fill="#262626">0.18</text>
<text x="488.5" y="423.9" font-size="9.6" text-anchor="end" fill="#262626">0.13</text>
<text x="492" y="433.4" font-size="9.6" text-anchor="middle" fill="#262626">0</text>
<text x="587.7" y="433.4" font-size="9.6" text-anchor="middle" fill="#262626">0.5</text>
<text x="684" y="433.4" font-size="9.6" text-anchor="middle" fill="#262626">1</text>
<text x="470.8" y="423.9" font-size="9.6" text-anchor="start" fill="#262626">1</text>
<path d="M371.9 115.8 V113.8 A17 17 0 0 1 388.9 96.8 H449.6 A17 17 0 0 1 466.6 113.8 V404.7" fill="none" stroke="#6e6e6e" stroke-width="1.4" stroke-dasharray="8.8 9.4"/>
<path d="M466.6 404.7 A17 17 0 0 1 449.6 421.7 H388.9 A17 17 0 0 1 371.9 404.7" fill="none" stroke="#6e6e6e" stroke-width="1.4" stroke-dasharray="8.8 9.3" stroke-dashoffset="8.5"/>
<path d="M371.9 391.2V400.2M371.9 373.3V382.3M371.9 355.4V364.3M371.9 344.4V345.6M371.9 321.6V330.5M371.9 303.4V312.4M371.9 285.2V294.1M371.9 267V275.8M371.9 248.7V257.6M371.9 230.4V239.3M371.9 220.1V221.3M371.9 198V206.9M371.9 179.7V188.5M371.9 161.5V170.3M371.9 143.3V152.1M371.9 125.2V134" fill="none" stroke="#6e6e6e" stroke-width="1.4"/>
<path d="M587.9 116.1 V114.1 A17 17 0 0 1 604.9 97.1 H666.1 A17 17 0 0 1 683.1 114.1 V404.7" fill="none" stroke="#6e6e6e" stroke-width="1.4" stroke-dasharray="8.8 9.4"/>
<path d="M683.1 404.7 A17 17 0 0 1 666.1 421.7 H604.9 A17 17 0 0 1 587.9 404.7" fill="none" stroke="#6e6e6e" stroke-width="1.4" stroke-dasharray="8.8 9.3" stroke-dashoffset="8.2"/>
<path d="M587.9 391.8V400.8M587.9 373.9V382.9M587.9 356V364.9M587.9 345V346.2M587.9 322.2V331.1M587.9 304V313M587.9 285.8V294.7M587.9 267.6V276.4M587.9 249.3V258.2M587.9 231V239.9M587.9 220.7V221.9M587.9 198.6V207.5M587.9 180.3V189.1M587.9 162.1V170.9M587.9 143.9V152.7M587.9 125.8V134.6" fill="none" stroke="#6e6e6e" stroke-width="1.4"/>
<g transform="translate(88.2 87.8) rotate(38)">
<rect x="-2.35" y="-7.6" width="4.7" height="15.2" fill="#fff" stroke="#3a3a3a" stroke-width="0.9" stroke-dasharray="1.4 0.5"/>
<circle cx="0" cy="0" r="1.5" fill="#ff00ff"/>
</g>
<g transform="translate(88.2 212.1) rotate(38)">
<rect x="-2.35" y="-7.6" width="4.7" height="15.2" fill="#fff" stroke="#3a3a3a" stroke-width="0.9" stroke-dasharray="1.4 0.5"/>
<circle cx="0" cy="0" r="1.5" fill="#ff00ff"/>
</g>
<g transform="translate(88.2 336.6) rotate(38)">
<rect x="-2.35" y="-7.6" width="4.7" height="15.2" fill="#fff" stroke="#3a3a3a" stroke-width="0.9" stroke-dasharray="1.4 0.5"/>
<circle cx="0" cy="0" r="1.5" fill="#ff00ff"/>
</g>
<g transform="translate(318 87.8) rotate(38)">
<rect x="-2.35" y="-7.6" width="4.7" height="15.2" fill="#fff" stroke="#3a3a3a" stroke-width="0.9" stroke-dasharray="1.4 0.5"/>
<circle cx="0" cy="0" r="1.5" fill="#ff00ff"/>
</g>
<g transform="translate(318 212.1) rotate(38)">
<rect x="-2.35" y="-7.6" width="4.7" height="15.2" fill="#fff" stroke="#3a3a3a" stroke-width="0.9" stroke-dasharray="1.4 0.5"/>
<circle cx="0" cy="0" r="1.5" fill="#ff00ff"/>
</g>
<g transform="translate(318 336.6) rotate(38)">
<rect x="-2.35" y="-7.6" width="4.7" height="15.2" fill="#fff" stroke="#3a3a3a" stroke-width="0.9" stroke-dasharray="1.4 0.5"/>
<circle cx="0" cy="0" r="1.5" fill="#ff00ff"/>
</g>
<g transform="translate(536.3 87.8) rotate(38)">
<rect x="-2.35" y="-7.6" width="4.7" height="15.2" fill="#fff" stroke="#3a3a3a" stroke-width="0.9" stroke-dasharray="1.4 0.5"/>
<circle cx="0" cy="0" r="1.5" fill="#ff00ff"/>
</g>
<g transform="translate(536.3 212.1) rotate(38)">
<rect x="-2.35" y="-7.6" width="4.7" height="15.2" fill="#fff" stroke="#3a3a3a" stroke-width="0.9" stroke-dasharray="1.4 0.5"/>
<circle cx="0" cy="0" r="1.5" fill="#ff00ff"/>
</g>
<g transform="translate(536.3 336.6) rotate(38)">
<rect x="-2.35" y="-7.6" width="4.7" height="15.2" fill="#fff" stroke="#3a3a3a" stroke-width="0.9" stroke-dasharray="1.4 0.5"/>
<circle cx="0" cy="0" r="1.5" fill="#ff00ff"/>
</g>
<text x="137.8" y="93.8" font-size="11.3" text-anchor="middle" fill="#000">8-12 Hz</text>
<text x="137.8" y="217.8" font-size="11.3" text-anchor="middle" fill="#000">12-18 Hz</text>
<text x="137.8" y="340.8" font-size="11.3" text-anchor="middle" fill="#000">18-26 Hz</text>
<text x="364" y="93.8" font-size="11.3" text-anchor="middle" fill="#000">8-12 Hz</text>
<text x="364" y="217.8" font-size="11.3" text-anchor="middle" fill="#000">12-18 Hz</text>
<text x="364" y="340.8" font-size="11.3" text-anchor="middle" fill="#000">18-26 Hz</text>
<text x="580.9" y="93.8" font-size="11.3" text-anchor="middle" fill="#000">8-12 Hz</text>
<text x="580.9" y="217.8" font-size="11.3" text-anchor="middle" fill="#000">12-18 Hz</text>
<text x="580.9" y="340.8" font-size="11.3" text-anchor="middle" fill="#000">18-26 Hz</text>
<text x="136.3" y="71.6" font-size="11.4" text-anchor="middle" fill="#000">Occipital</text>
<text x="364.5" y="70.9" font-size="11.4" text-anchor="middle" fill="#000">Parietal</text>
<text x="580.9" y="70.9" font-size="11.4" text-anchor="middle" fill="#000">PFC</text>
<text x="135.8" y="21.2" font-size="13.45" text-anchor="middle" fill="#000">Average distractor vs</text>
<text x="137.8" y="38" font-size="13.45" text-anchor="middle" fill="#000">target response</text>
<text x="451.4" y="40.9" font-size="13.45" text-anchor="middle" fill="#000">Average delay period preceeding distractors</text>
<text x="12" y="17" font-size="18.4" text-anchor="start" fill="#000">a</text>
<text x="259.6" y="16.9" font-size="18.4" text-anchor="start" fill="#000">b</text>
<path d="M559 5.1H575" stroke="#0000ff" stroke-width="1.8"/>
<path d="M559 13.4H575" stroke="#ff0000" stroke-width="1.3"/>
<text x="578.3" y="7.7" font-size="11.4" text-anchor="start" fill="#000">Distractor trials</text>
<text x="578.3" y="17.5" font-size="11.4" text-anchor="start" fill="#000">No-Distractor trials</text>
<text transform="translate(9.6 261.2) rotate(-90)" font-size="11.7" text-anchor="middle" fill="#000">Burst rate (1/trial)</text>
<text x="138.3" y="443.9" font-size="11.3" text-anchor="middle" fill="#000">Time (s)</text>
<text x="482.1" y="443.9" font-size="11.3" text-anchor="middle" fill="#000">Time (s)</text>
</svg>
</body></html>
